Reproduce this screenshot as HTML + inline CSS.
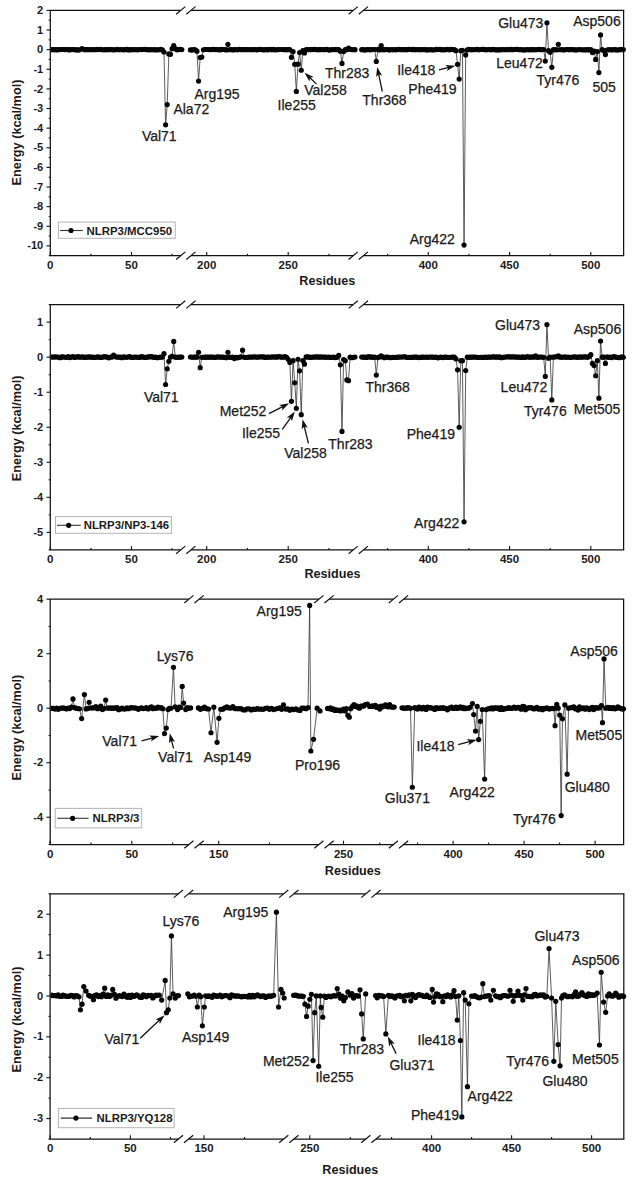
<!DOCTYPE html>
<html><head><meta charset="utf-8"><title>Energy decomposition</title>
<style>html,body{margin:0;padding:0;background:#fff;}svg{display:block;}text{font-family:"Liberation Sans", sans-serif;fill:#1a1a1a;}text.l{stroke:#1a1a1a;stroke-width:0.25px;}</style>
</head><body>
<svg width="632" height="1180" viewBox="0 0 632 1180">
<rect width="632" height="1180" fill="#fff"/>
<g fill="#050505">
<line x1="49.7" y1="10.4" x2="180.6" y2="10.4" stroke="#111" stroke-width="1.25"/>
<line x1="191" y1="10.4" x2="353.1" y2="10.4" stroke="#111" stroke-width="1.25"/>
<line x1="363.5" y1="10.4" x2="624.2" y2="10.4" stroke="#111" stroke-width="1.25"/>
<line x1="49.7" y1="255.7" x2="180.6" y2="255.7" stroke="#111" stroke-width="1.25"/>
<line x1="191" y1="255.7" x2="353.1" y2="255.7" stroke="#111" stroke-width="1.25"/>
<line x1="363.5" y1="255.7" x2="624.2" y2="255.7" stroke="#111" stroke-width="1.25"/>
<line x1="50.3" y1="10.4" x2="50.3" y2="255.7" stroke="#111" stroke-width="1.25"/>
<line x1="623.6" y1="10.4" x2="623.6" y2="255.7" stroke="#111" stroke-width="1.25"/>
<line x1="176.1" y1="14.2" x2="185.3" y2="6.6" stroke="#111" stroke-width="1.2"/>
<line x1="186.3" y1="14.2" x2="195.5" y2="6.6" stroke="#111" stroke-width="1.2"/>
<line x1="176.1" y1="259.5" x2="185.3" y2="251.9" stroke="#111" stroke-width="1.2"/>
<line x1="186.3" y1="259.5" x2="195.5" y2="251.9" stroke="#111" stroke-width="1.2"/>
<line x1="348.6" y1="14.2" x2="357.8" y2="6.6" stroke="#111" stroke-width="1.2"/>
<line x1="358.8" y1="14.2" x2="368" y2="6.6" stroke="#111" stroke-width="1.2"/>
<line x1="348.6" y1="259.5" x2="357.8" y2="251.9" stroke="#111" stroke-width="1.2"/>
<line x1="358.8" y1="259.5" x2="368" y2="251.9" stroke="#111" stroke-width="1.2"/>
<line x1="46.5" y1="10.4" x2="50.3" y2="10.4" stroke="#111" stroke-width="1.1"/>
<line x1="48.7" y1="20.21" x2="50.3" y2="20.21" stroke="#111" stroke-width="1.1"/>
<line x1="46.5" y1="30.02" x2="50.3" y2="30.02" stroke="#111" stroke-width="1.1"/>
<line x1="48.7" y1="39.84" x2="50.3" y2="39.84" stroke="#111" stroke-width="1.1"/>
<line x1="46.5" y1="49.65" x2="50.3" y2="49.65" stroke="#111" stroke-width="1.1"/>
<line x1="48.7" y1="59.46" x2="50.3" y2="59.46" stroke="#111" stroke-width="1.1"/>
<line x1="46.5" y1="69.27" x2="50.3" y2="69.27" stroke="#111" stroke-width="1.1"/>
<line x1="48.7" y1="79.08" x2="50.3" y2="79.08" stroke="#111" stroke-width="1.1"/>
<line x1="46.5" y1="88.9" x2="50.3" y2="88.9" stroke="#111" stroke-width="1.1"/>
<line x1="48.7" y1="98.71" x2="50.3" y2="98.71" stroke="#111" stroke-width="1.1"/>
<line x1="46.5" y1="108.52" x2="50.3" y2="108.52" stroke="#111" stroke-width="1.1"/>
<line x1="48.7" y1="118.33" x2="50.3" y2="118.33" stroke="#111" stroke-width="1.1"/>
<line x1="46.5" y1="128.14" x2="50.3" y2="128.14" stroke="#111" stroke-width="1.1"/>
<line x1="48.7" y1="137.96" x2="50.3" y2="137.96" stroke="#111" stroke-width="1.1"/>
<line x1="46.5" y1="147.77" x2="50.3" y2="147.77" stroke="#111" stroke-width="1.1"/>
<line x1="48.7" y1="157.58" x2="50.3" y2="157.58" stroke="#111" stroke-width="1.1"/>
<line x1="46.5" y1="167.39" x2="50.3" y2="167.39" stroke="#111" stroke-width="1.1"/>
<line x1="48.7" y1="177.2" x2="50.3" y2="177.2" stroke="#111" stroke-width="1.1"/>
<line x1="46.5" y1="187.02" x2="50.3" y2="187.02" stroke="#111" stroke-width="1.1"/>
<line x1="48.7" y1="196.83" x2="50.3" y2="196.83" stroke="#111" stroke-width="1.1"/>
<line x1="46.5" y1="206.64" x2="50.3" y2="206.64" stroke="#111" stroke-width="1.1"/>
<line x1="48.7" y1="216.45" x2="50.3" y2="216.45" stroke="#111" stroke-width="1.1"/>
<line x1="46.5" y1="226.26" x2="50.3" y2="226.26" stroke="#111" stroke-width="1.1"/>
<line x1="48.7" y1="236.08" x2="50.3" y2="236.08" stroke="#111" stroke-width="1.1"/>
<line x1="46.5" y1="245.89" x2="50.3" y2="245.89" stroke="#111" stroke-width="1.1"/>
<line x1="48.7" y1="255.7" x2="50.3" y2="255.7" stroke="#111" stroke-width="1.1"/>
<text x="43.2" y="14" text-anchor="end" font-weight="bold" font-size="11">2</text>
<text x="43.2" y="33.62" text-anchor="end" font-weight="bold" font-size="11">1</text>
<text x="43.2" y="53.25" text-anchor="end" font-weight="bold" font-size="11">0</text>
<text x="43.2" y="72.87" text-anchor="end" font-weight="bold" font-size="11">-1</text>
<text x="43.2" y="92.5" text-anchor="end" font-weight="bold" font-size="11">-2</text>
<text x="43.2" y="112.12" text-anchor="end" font-weight="bold" font-size="11">-3</text>
<text x="43.2" y="131.74" text-anchor="end" font-weight="bold" font-size="11">-4</text>
<text x="43.2" y="151.37" text-anchor="end" font-weight="bold" font-size="11">-5</text>
<text x="43.2" y="170.99" text-anchor="end" font-weight="bold" font-size="11">-6</text>
<text x="43.2" y="190.62" text-anchor="end" font-weight="bold" font-size="11">-7</text>
<text x="43.2" y="210.24" text-anchor="end" font-weight="bold" font-size="11">-8</text>
<text x="43.2" y="229.86" text-anchor="end" font-weight="bold" font-size="11">-9</text>
<text x="43.2" y="249.49" text-anchor="end" font-weight="bold" font-size="11">-10</text>
<line x1="50.3" y1="255.7" x2="50.3" y2="251.9" stroke="#111" stroke-width="1.1"/>
<text x="50.3" y="269" text-anchor="middle" font-weight="bold" font-size="11.5">0</text>
<line x1="90.9" y1="255.7" x2="90.9" y2="253.7" stroke="#111" stroke-width="1.1"/>
<line x1="131.5" y1="255.7" x2="131.5" y2="251.9" stroke="#111" stroke-width="1.1"/>
<text x="131.5" y="269" text-anchor="middle" font-weight="bold" font-size="11.5">50</text>
<line x1="172.1" y1="255.7" x2="172.1" y2="253.7" stroke="#111" stroke-width="1.1"/>
<line x1="206.7" y1="255.7" x2="206.7" y2="251.9" stroke="#111" stroke-width="1.1"/>
<text x="206.7" y="269" text-anchor="middle" font-weight="bold" font-size="11.5">200</text>
<line x1="247.45" y1="255.7" x2="247.45" y2="253.7" stroke="#111" stroke-width="1.1"/>
<line x1="288.2" y1="255.7" x2="288.2" y2="251.9" stroke="#111" stroke-width="1.1"/>
<text x="288.2" y="269" text-anchor="middle" font-weight="bold" font-size="11.5">250</text>
<line x1="328.95" y1="255.7" x2="328.95" y2="253.7" stroke="#111" stroke-width="1.1"/>
<line x1="387.68" y1="255.7" x2="387.68" y2="253.7" stroke="#111" stroke-width="1.1"/>
<line x1="428.3" y1="255.7" x2="428.3" y2="251.9" stroke="#111" stroke-width="1.1"/>
<text x="428.3" y="269" text-anchor="middle" font-weight="bold" font-size="11.5">400</text>
<line x1="468.93" y1="255.7" x2="468.93" y2="253.7" stroke="#111" stroke-width="1.1"/>
<line x1="509.55" y1="255.7" x2="509.55" y2="251.9" stroke="#111" stroke-width="1.1"/>
<text x="509.55" y="269" text-anchor="middle" font-weight="bold" font-size="11.5">450</text>
<line x1="550.17" y1="255.7" x2="550.17" y2="253.7" stroke="#111" stroke-width="1.1"/>
<line x1="590.8" y1="255.7" x2="590.8" y2="251.9" stroke="#111" stroke-width="1.1"/>
<text x="590.8" y="269" text-anchor="middle" font-weight="bold" font-size="11.5">500</text>
<text x="299.3" y="285.1" font-weight="bold" font-size="12.6">Residues</text>
<text transform="translate(21.2 132.5) rotate(-90)" text-anchor="middle" font-weight="bold" font-size="12.7">Energy (kcal/mol)</text>
<clipPath id="c10"><rect x="50.9" y="11" width="576.3" height="244.1"/></clipPath>
<g clip-path="url(#c10)">
<polyline points="50.3,49.69 51.92,49.57 53.55,49.68 55.17,49.7 56.8,49.79 58.42,49.68 60.04,49.48 61.67,49.58 63.29,49.49 64.92,49.61 66.54,49.59 68.16,49.62 69.79,49.9 71.41,49.52 73.04,49.57 74.66,49.57 76.28,49.9 77.91,49.91 79.53,49.78 81.97,48.67 84.4,49.72 86.03,49.6 87.65,49.65 89.28,49.57 90.9,49.74 92.52,49.6 94.15,49.59 95.77,49.75 97.4,49.39 99.02,49.56 100.64,49.47 102.27,49.74 103.89,49.76 105.52,49.7 107.14,49.66 108.76,49.55 110.39,49.61 112.01,49.72 113.64,49.79 115.26,49.73 116.88,49.46 118.51,49.77 120.13,49.61 121.76,49.58 123.38,49.87 125,49.64 126.63,49.45 128.25,49.95 129.88,49.7 131.5,49.66 133.12,49.77 134.75,49.57 136.37,49.66 138,49.87 139.62,49.52 141.24,49.55 142.87,49.51 144.49,49.43 146.12,49.59 147.74,49.63 149.36,49.84 150.99,49.56 152.61,49.74 154.24,49.72 155.86,49.84 157.48,49.79 159.11,49.73 160.73,49.45 162.36,49.95 163.98,52 165.6,124.81 167.23,104.6 168.85,53.97 170.48,54.36 172.1,48.67 173.72,45.72 175.35,48.67 176.97,49.87 178.6,49.61 180.22,49.43 181.84,49.56" fill="none" stroke="#333" stroke-width="0.8"/>
<circle cx="50.3" cy="49.69" r="2.6"/>
<circle cx="51.92" cy="49.57" r="2.6"/>
<circle cx="53.55" cy="49.68" r="2.6"/>
<circle cx="55.17" cy="49.7" r="2.6"/>
<circle cx="56.8" cy="49.79" r="2.6"/>
<circle cx="58.42" cy="49.68" r="2.6"/>
<circle cx="60.04" cy="49.48" r="2.6"/>
<circle cx="61.67" cy="49.58" r="2.6"/>
<circle cx="63.29" cy="49.49" r="2.6"/>
<circle cx="64.92" cy="49.61" r="2.6"/>
<circle cx="66.54" cy="49.59" r="2.6"/>
<circle cx="68.16" cy="49.62" r="2.6"/>
<circle cx="69.79" cy="49.9" r="2.6"/>
<circle cx="71.41" cy="49.52" r="2.6"/>
<circle cx="73.04" cy="49.57" r="2.6"/>
<circle cx="74.66" cy="49.57" r="2.6"/>
<circle cx="76.28" cy="49.9" r="2.6"/>
<circle cx="77.91" cy="49.91" r="2.6"/>
<circle cx="79.53" cy="49.78" r="2.6"/>
<circle cx="81.97" cy="48.67" r="2.6"/>
<circle cx="84.4" cy="49.72" r="2.6"/>
<circle cx="86.03" cy="49.6" r="2.6"/>
<circle cx="87.65" cy="49.65" r="2.6"/>
<circle cx="89.28" cy="49.57" r="2.6"/>
<circle cx="90.9" cy="49.74" r="2.6"/>
<circle cx="92.52" cy="49.6" r="2.6"/>
<circle cx="94.15" cy="49.59" r="2.6"/>
<circle cx="95.77" cy="49.75" r="2.6"/>
<circle cx="97.4" cy="49.39" r="2.6"/>
<circle cx="99.02" cy="49.56" r="2.6"/>
<circle cx="100.64" cy="49.47" r="2.6"/>
<circle cx="102.27" cy="49.74" r="2.6"/>
<circle cx="103.89" cy="49.76" r="2.6"/>
<circle cx="105.52" cy="49.7" r="2.6"/>
<circle cx="107.14" cy="49.66" r="2.6"/>
<circle cx="108.76" cy="49.55" r="2.6"/>
<circle cx="110.39" cy="49.61" r="2.6"/>
<circle cx="112.01" cy="49.72" r="2.6"/>
<circle cx="113.64" cy="49.79" r="2.6"/>
<circle cx="115.26" cy="49.73" r="2.6"/>
<circle cx="116.88" cy="49.46" r="2.6"/>
<circle cx="118.51" cy="49.77" r="2.6"/>
<circle cx="120.13" cy="49.61" r="2.6"/>
<circle cx="121.76" cy="49.58" r="2.6"/>
<circle cx="123.38" cy="49.87" r="2.6"/>
<circle cx="125" cy="49.64" r="2.6"/>
<circle cx="126.63" cy="49.45" r="2.6"/>
<circle cx="128.25" cy="49.95" r="2.6"/>
<circle cx="129.88" cy="49.7" r="2.6"/>
<circle cx="131.5" cy="49.66" r="2.6"/>
<circle cx="133.12" cy="49.77" r="2.6"/>
<circle cx="134.75" cy="49.57" r="2.6"/>
<circle cx="136.37" cy="49.66" r="2.6"/>
<circle cx="138" cy="49.87" r="2.6"/>
<circle cx="139.62" cy="49.52" r="2.6"/>
<circle cx="141.24" cy="49.55" r="2.6"/>
<circle cx="142.87" cy="49.51" r="2.6"/>
<circle cx="144.49" cy="49.43" r="2.6"/>
<circle cx="146.12" cy="49.59" r="2.6"/>
<circle cx="147.74" cy="49.63" r="2.6"/>
<circle cx="149.36" cy="49.84" r="2.6"/>
<circle cx="150.99" cy="49.56" r="2.6"/>
<circle cx="152.61" cy="49.74" r="2.6"/>
<circle cx="154.24" cy="49.72" r="2.6"/>
<circle cx="155.86" cy="49.84" r="2.6"/>
<circle cx="157.48" cy="49.79" r="2.6"/>
<circle cx="159.11" cy="49.73" r="2.6"/>
<circle cx="160.73" cy="49.45" r="2.6"/>
<circle cx="162.36" cy="49.95" r="2.6"/>
<circle cx="163.98" cy="52" r="2.6"/>
<circle cx="165.6" cy="124.81" r="2.6"/>
<circle cx="167.23" cy="104.6" r="2.6"/>
<circle cx="168.85" cy="53.97" r="2.6"/>
<circle cx="170.48" cy="54.36" r="2.6"/>
<circle cx="172.1" cy="48.67" r="2.6"/>
<circle cx="173.72" cy="45.72" r="2.6"/>
<circle cx="175.35" cy="48.67" r="2.6"/>
<circle cx="176.97" cy="49.87" r="2.6"/>
<circle cx="178.6" cy="49.61" r="2.6"/>
<circle cx="180.22" cy="49.43" r="2.6"/>
<circle cx="181.84" cy="49.56" r="2.6"/>
<polyline points="190.4,49.93 192.03,50.03 193.66,49.59 195.29,49.76 196.92,51.22 198.55,81.05 200.18,57.5 201.81,57.11 203.44,49.82 205.07,49.5 206.7,49.48 208.33,49.62 209.96,49.61 211.59,49.58 213.22,49.41 214.85,49.56 216.48,49.57 218.11,49.57 219.74,49.88 221.37,49.46 223,49.5 224.63,49.57 226.26,49.94 227.89,44.35 229.52,49.74 231.15,49.52 232.78,49.92 234.41,49.68 236.04,49.5 237.67,49.84 239.3,49.41 240.93,49.57 242.56,49.67 244.19,49.6 245.82,49.55 247.45,49.63 249.08,49.48 250.71,49.75 252.34,49.71 253.97,49.49 255.6,49.64 257.23,49.78 258.86,49.51 260.49,49.43 262.12,49.71 263.75,49.85 265.38,49.67 267.01,49.67 268.64,49.69 270.27,49.44 271.9,49.8 273.53,49.46 275.16,49.84 276.79,49.77 278.42,49.55 280.05,49.48 281.68,49.52 283.31,49.6 284.94,49.63 286.57,49.63 288.2,49.56 289.83,49.67 291.46,57.3 293.09,51.61 294.72,64.37 296.35,91.45 297.98,64.17 299.61,52.59 301.24,70.25 302.87,50.63 304.5,52.98 306.13,49.61 307.76,49.56 309.39,49.65 311.02,49.53 312.65,49.56 314.28,49.35 315.91,49.6 317.54,49.71 319.17,49.7 320.8,49.65 322.43,49.51 324.06,49.7 325.69,49.59 327.32,49.37 328.95,50.03 330.58,49.82 332.21,49.61 333.84,49.59 335.47,49.61 337.1,49.71 338.73,49.55 340.36,51.22 341.99,63.38 343.62,51.61 345.25,49.61 346.88,49.73 348.51,48.08 350.14,49.28 351.77,49.59 353.4,49.73 355.03,49.66" fill="none" stroke="#333" stroke-width="0.8"/>
<circle cx="190.4" cy="49.93" r="2.6"/>
<circle cx="192.03" cy="50.03" r="2.6"/>
<circle cx="193.66" cy="49.59" r="2.6"/>
<circle cx="195.29" cy="49.76" r="2.6"/>
<circle cx="196.92" cy="51.22" r="2.6"/>
<circle cx="198.55" cy="81.05" r="2.6"/>
<circle cx="200.18" cy="57.5" r="2.6"/>
<circle cx="201.81" cy="57.11" r="2.6"/>
<circle cx="203.44" cy="49.82" r="2.6"/>
<circle cx="205.07" cy="49.5" r="2.6"/>
<circle cx="206.7" cy="49.48" r="2.6"/>
<circle cx="208.33" cy="49.62" r="2.6"/>
<circle cx="209.96" cy="49.61" r="2.6"/>
<circle cx="211.59" cy="49.58" r="2.6"/>
<circle cx="213.22" cy="49.41" r="2.6"/>
<circle cx="214.85" cy="49.56" r="2.6"/>
<circle cx="216.48" cy="49.57" r="2.6"/>
<circle cx="218.11" cy="49.57" r="2.6"/>
<circle cx="219.74" cy="49.88" r="2.6"/>
<circle cx="221.37" cy="49.46" r="2.6"/>
<circle cx="223" cy="49.5" r="2.6"/>
<circle cx="224.63" cy="49.57" r="2.6"/>
<circle cx="226.26" cy="49.94" r="2.6"/>
<circle cx="227.89" cy="44.35" r="2.6"/>
<circle cx="229.52" cy="49.74" r="2.6"/>
<circle cx="231.15" cy="49.52" r="2.6"/>
<circle cx="232.78" cy="49.92" r="2.6"/>
<circle cx="234.41" cy="49.68" r="2.6"/>
<circle cx="236.04" cy="49.5" r="2.6"/>
<circle cx="237.67" cy="49.84" r="2.6"/>
<circle cx="239.3" cy="49.41" r="2.6"/>
<circle cx="240.93" cy="49.57" r="2.6"/>
<circle cx="242.56" cy="49.67" r="2.6"/>
<circle cx="244.19" cy="49.6" r="2.6"/>
<circle cx="245.82" cy="49.55" r="2.6"/>
<circle cx="247.45" cy="49.63" r="2.6"/>
<circle cx="249.08" cy="49.48" r="2.6"/>
<circle cx="250.71" cy="49.75" r="2.6"/>
<circle cx="252.34" cy="49.71" r="2.6"/>
<circle cx="253.97" cy="49.49" r="2.6"/>
<circle cx="255.6" cy="49.64" r="2.6"/>
<circle cx="257.23" cy="49.78" r="2.6"/>
<circle cx="258.86" cy="49.51" r="2.6"/>
<circle cx="260.49" cy="49.43" r="2.6"/>
<circle cx="262.12" cy="49.71" r="2.6"/>
<circle cx="263.75" cy="49.85" r="2.6"/>
<circle cx="265.38" cy="49.67" r="2.6"/>
<circle cx="267.01" cy="49.67" r="2.6"/>
<circle cx="268.64" cy="49.69" r="2.6"/>
<circle cx="270.27" cy="49.44" r="2.6"/>
<circle cx="271.9" cy="49.8" r="2.6"/>
<circle cx="273.53" cy="49.46" r="2.6"/>
<circle cx="275.16" cy="49.84" r="2.6"/>
<circle cx="276.79" cy="49.77" r="2.6"/>
<circle cx="278.42" cy="49.55" r="2.6"/>
<circle cx="280.05" cy="49.48" r="2.6"/>
<circle cx="281.68" cy="49.52" r="2.6"/>
<circle cx="283.31" cy="49.6" r="2.6"/>
<circle cx="284.94" cy="49.63" r="2.6"/>
<circle cx="286.57" cy="49.63" r="2.6"/>
<circle cx="288.2" cy="49.56" r="2.6"/>
<circle cx="289.83" cy="49.67" r="2.6"/>
<circle cx="291.46" cy="57.3" r="2.6"/>
<circle cx="293.09" cy="51.61" r="2.6"/>
<circle cx="294.72" cy="64.37" r="2.6"/>
<circle cx="296.35" cy="91.45" r="2.6"/>
<circle cx="297.98" cy="64.17" r="2.6"/>
<circle cx="299.61" cy="52.59" r="2.6"/>
<circle cx="301.24" cy="70.25" r="2.6"/>
<circle cx="302.87" cy="50.63" r="2.6"/>
<circle cx="304.5" cy="52.98" r="2.6"/>
<circle cx="306.13" cy="49.61" r="2.6"/>
<circle cx="307.76" cy="49.56" r="2.6"/>
<circle cx="309.39" cy="49.65" r="2.6"/>
<circle cx="311.02" cy="49.53" r="2.6"/>
<circle cx="312.65" cy="49.56" r="2.6"/>
<circle cx="314.28" cy="49.35" r="2.6"/>
<circle cx="315.91" cy="49.6" r="2.6"/>
<circle cx="317.54" cy="49.71" r="2.6"/>
<circle cx="319.17" cy="49.7" r="2.6"/>
<circle cx="320.8" cy="49.65" r="2.6"/>
<circle cx="322.43" cy="49.51" r="2.6"/>
<circle cx="324.06" cy="49.7" r="2.6"/>
<circle cx="325.69" cy="49.59" r="2.6"/>
<circle cx="327.32" cy="49.37" r="2.6"/>
<circle cx="328.95" cy="50.03" r="2.6"/>
<circle cx="330.58" cy="49.82" r="2.6"/>
<circle cx="332.21" cy="49.61" r="2.6"/>
<circle cx="333.84" cy="49.59" r="2.6"/>
<circle cx="335.47" cy="49.61" r="2.6"/>
<circle cx="337.1" cy="49.71" r="2.6"/>
<circle cx="338.73" cy="49.55" r="2.6"/>
<circle cx="340.36" cy="51.22" r="2.6"/>
<circle cx="341.99" cy="63.38" r="2.6"/>
<circle cx="343.62" cy="51.61" r="2.6"/>
<circle cx="345.25" cy="49.61" r="2.6"/>
<circle cx="346.88" cy="49.73" r="2.6"/>
<circle cx="348.51" cy="48.08" r="2.6"/>
<circle cx="350.14" cy="49.28" r="2.6"/>
<circle cx="351.77" cy="49.59" r="2.6"/>
<circle cx="353.4" cy="49.73" r="2.6"/>
<circle cx="355.03" cy="49.66" r="2.6"/>
<polyline points="361.68,49.68 363.3,49.66 364.93,50.06 366.55,49.72 368.18,49.5 369.8,49.82 371.43,49.66 373.05,49.5 374.68,49.52 376.3,61.42 377.93,49.42 379.55,49.9 381.18,45.72 382.8,49.7 384.43,49.7 386.05,49.55 387.68,49.48 389.3,50.05 390.93,49.48 392.55,49.87 394.18,49.55 395.8,49.87 397.43,49.62 399.05,49.47 400.68,49.67 402.3,49.62 403.93,49.53 405.55,49.63 407.18,49.66 408.8,49.42 410.43,49.49 412.05,49.69 413.68,49.24 415.3,49.82 416.93,49.51 418.55,49.69 420.18,49.63 421.8,49.54 423.43,49.61 425.05,49.55 426.68,49.88 428.3,49.87 429.93,49.56 431.55,49.79 433.18,49.8 434.8,49.87 436.43,49.46 438.05,49.54 439.68,49.43 441.3,49.79 442.93,49.65 444.55,49.82 446.18,49.53 447.8,49.41 449.43,49.78 451.05,49.41 452.68,49.5 454.3,49.67 455.93,50.63 457.55,64.37 459.18,79.08 460.8,50.63 462.43,50.24 464.05,245.1 465.68,54.95 467.3,49.94 468.93,49.44 470.55,49.66 472.18,49.74 473.8,49.59 475.43,49.59 477.05,49.42 478.68,49.8 480.3,49.48 481.93,49.42 483.55,49.43 485.18,49.68 486.8,49.76 488.43,49.5 490.05,49.63 491.68,49.63 493.3,49.43 494.93,49.69 496.55,49.99 498.18,49.71 499.8,49.93 501.43,49.53 503.05,49.6 504.68,49.74 506.3,49.65 507.93,49.52 509.55,49.64 511.18,49.45 512.8,49.66 514.42,49.49 516.05,49.42 517.67,49.41 519.3,49.75 520.92,49.52 522.55,49.93 524.17,49.81 525.8,49.94 527.42,49.49 529.05,49.83 530.67,49.65 532.3,49.68 533.92,49.65 535.55,49.74 537.17,49.61 538.8,49.38 540.42,49.64 542.05,49.57 543.67,49.5 545.3,61.03 546.92,22.76 548.55,50.63 550.17,52.2 551.8,67.31 553.42,49.65 555.05,49.68 556.67,49.84 558.3,44.35 559.92,49.73 561.55,49.49 563.17,49.89 564.8,49.74 566.42,49.5 568.05,49.53 569.67,49.65 571.3,49.53 572.92,49.62 574.55,49.82 576.17,49.88 577.8,49.74 579.42,49.51 581.05,49.73 582.67,49.78 584.3,49.76 585.92,49.88 587.55,49.67 589.17,49.82 590.8,49.59 592.42,52.59 594.05,51.22 595.67,59.46 597.3,51.61 598.92,72.61 600.55,34.93 602.17,49.65 603.8,50.63 605.42,54.55 607.05,50 608.67,49.6 610.3,49.74 611.92,49.94 613.55,49.54 615.17,49.69 616.8,49.98 618.42,49.78 620.05,49.6 621.67,49.72 623.3,49.53" fill="none" stroke="#333" stroke-width="0.8"/>
<circle cx="361.68" cy="49.68" r="2.6"/>
<circle cx="363.3" cy="49.66" r="2.6"/>
<circle cx="364.93" cy="50.06" r="2.6"/>
<circle cx="366.55" cy="49.72" r="2.6"/>
<circle cx="368.18" cy="49.5" r="2.6"/>
<circle cx="369.8" cy="49.82" r="2.6"/>
<circle cx="371.43" cy="49.66" r="2.6"/>
<circle cx="373.05" cy="49.5" r="2.6"/>
<circle cx="374.68" cy="49.52" r="2.6"/>
<circle cx="376.3" cy="61.42" r="2.6"/>
<circle cx="377.93" cy="49.42" r="2.6"/>
<circle cx="379.55" cy="49.9" r="2.6"/>
<circle cx="381.18" cy="45.72" r="2.6"/>
<circle cx="382.8" cy="49.7" r="2.6"/>
<circle cx="384.43" cy="49.7" r="2.6"/>
<circle cx="386.05" cy="49.55" r="2.6"/>
<circle cx="387.68" cy="49.48" r="2.6"/>
<circle cx="389.3" cy="50.05" r="2.6"/>
<circle cx="390.93" cy="49.48" r="2.6"/>
<circle cx="392.55" cy="49.87" r="2.6"/>
<circle cx="394.18" cy="49.55" r="2.6"/>
<circle cx="395.8" cy="49.87" r="2.6"/>
<circle cx="397.43" cy="49.62" r="2.6"/>
<circle cx="399.05" cy="49.47" r="2.6"/>
<circle cx="400.68" cy="49.67" r="2.6"/>
<circle cx="402.3" cy="49.62" r="2.6"/>
<circle cx="403.93" cy="49.53" r="2.6"/>
<circle cx="405.55" cy="49.63" r="2.6"/>
<circle cx="407.18" cy="49.66" r="2.6"/>
<circle cx="408.8" cy="49.42" r="2.6"/>
<circle cx="410.43" cy="49.49" r="2.6"/>
<circle cx="412.05" cy="49.69" r="2.6"/>
<circle cx="413.68" cy="49.24" r="2.6"/>
<circle cx="415.3" cy="49.82" r="2.6"/>
<circle cx="416.93" cy="49.51" r="2.6"/>
<circle cx="418.55" cy="49.69" r="2.6"/>
<circle cx="420.18" cy="49.63" r="2.6"/>
<circle cx="421.8" cy="49.54" r="2.6"/>
<circle cx="423.43" cy="49.61" r="2.6"/>
<circle cx="425.05" cy="49.55" r="2.6"/>
<circle cx="426.68" cy="49.88" r="2.6"/>
<circle cx="428.3" cy="49.87" r="2.6"/>
<circle cx="429.93" cy="49.56" r="2.6"/>
<circle cx="431.55" cy="49.79" r="2.6"/>
<circle cx="433.18" cy="49.8" r="2.6"/>
<circle cx="434.8" cy="49.87" r="2.6"/>
<circle cx="436.43" cy="49.46" r="2.6"/>
<circle cx="438.05" cy="49.54" r="2.6"/>
<circle cx="439.68" cy="49.43" r="2.6"/>
<circle cx="441.3" cy="49.79" r="2.6"/>
<circle cx="442.93" cy="49.65" r="2.6"/>
<circle cx="444.55" cy="49.82" r="2.6"/>
<circle cx="446.18" cy="49.53" r="2.6"/>
<circle cx="447.8" cy="49.41" r="2.6"/>
<circle cx="449.43" cy="49.78" r="2.6"/>
<circle cx="451.05" cy="49.41" r="2.6"/>
<circle cx="452.68" cy="49.5" r="2.6"/>
<circle cx="454.3" cy="49.67" r="2.6"/>
<circle cx="455.93" cy="50.63" r="2.6"/>
<circle cx="457.55" cy="64.37" r="2.6"/>
<circle cx="459.18" cy="79.08" r="2.6"/>
<circle cx="460.8" cy="50.63" r="2.6"/>
<circle cx="462.43" cy="50.24" r="2.6"/>
<circle cx="464.05" cy="245.1" r="2.6"/>
<circle cx="465.68" cy="54.95" r="2.6"/>
<circle cx="467.3" cy="49.94" r="2.6"/>
<circle cx="468.93" cy="49.44" r="2.6"/>
<circle cx="470.55" cy="49.66" r="2.6"/>
<circle cx="472.18" cy="49.74" r="2.6"/>
<circle cx="473.8" cy="49.59" r="2.6"/>
<circle cx="475.43" cy="49.59" r="2.6"/>
<circle cx="477.05" cy="49.42" r="2.6"/>
<circle cx="478.68" cy="49.8" r="2.6"/>
<circle cx="480.3" cy="49.48" r="2.6"/>
<circle cx="481.93" cy="49.42" r="2.6"/>
<circle cx="483.55" cy="49.43" r="2.6"/>
<circle cx="485.18" cy="49.68" r="2.6"/>
<circle cx="486.8" cy="49.76" r="2.6"/>
<circle cx="488.43" cy="49.5" r="2.6"/>
<circle cx="490.05" cy="49.63" r="2.6"/>
<circle cx="491.68" cy="49.63" r="2.6"/>
<circle cx="493.3" cy="49.43" r="2.6"/>
<circle cx="494.93" cy="49.69" r="2.6"/>
<circle cx="496.55" cy="49.99" r="2.6"/>
<circle cx="498.18" cy="49.71" r="2.6"/>
<circle cx="499.8" cy="49.93" r="2.6"/>
<circle cx="501.43" cy="49.53" r="2.6"/>
<circle cx="503.05" cy="49.6" r="2.6"/>
<circle cx="504.68" cy="49.74" r="2.6"/>
<circle cx="506.3" cy="49.65" r="2.6"/>
<circle cx="507.93" cy="49.52" r="2.6"/>
<circle cx="509.55" cy="49.64" r="2.6"/>
<circle cx="511.18" cy="49.45" r="2.6"/>
<circle cx="512.8" cy="49.66" r="2.6"/>
<circle cx="514.42" cy="49.49" r="2.6"/>
<circle cx="516.05" cy="49.42" r="2.6"/>
<circle cx="517.67" cy="49.41" r="2.6"/>
<circle cx="519.3" cy="49.75" r="2.6"/>
<circle cx="520.92" cy="49.52" r="2.6"/>
<circle cx="522.55" cy="49.93" r="2.6"/>
<circle cx="524.17" cy="49.81" r="2.6"/>
<circle cx="525.8" cy="49.94" r="2.6"/>
<circle cx="527.42" cy="49.49" r="2.6"/>
<circle cx="529.05" cy="49.83" r="2.6"/>
<circle cx="530.67" cy="49.65" r="2.6"/>
<circle cx="532.3" cy="49.68" r="2.6"/>
<circle cx="533.92" cy="49.65" r="2.6"/>
<circle cx="535.55" cy="49.74" r="2.6"/>
<circle cx="537.17" cy="49.61" r="2.6"/>
<circle cx="538.8" cy="49.38" r="2.6"/>
<circle cx="540.42" cy="49.64" r="2.6"/>
<circle cx="542.05" cy="49.57" r="2.6"/>
<circle cx="543.67" cy="49.5" r="2.6"/>
<circle cx="545.3" cy="61.03" r="2.6"/>
<circle cx="546.92" cy="22.76" r="2.6"/>
<circle cx="548.55" cy="50.63" r="2.6"/>
<circle cx="550.17" cy="52.2" r="2.6"/>
<circle cx="551.8" cy="67.31" r="2.6"/>
<circle cx="553.42" cy="49.65" r="2.6"/>
<circle cx="555.05" cy="49.68" r="2.6"/>
<circle cx="556.67" cy="49.84" r="2.6"/>
<circle cx="558.3" cy="44.35" r="2.6"/>
<circle cx="559.92" cy="49.73" r="2.6"/>
<circle cx="561.55" cy="49.49" r="2.6"/>
<circle cx="563.17" cy="49.89" r="2.6"/>
<circle cx="564.8" cy="49.74" r="2.6"/>
<circle cx="566.42" cy="49.5" r="2.6"/>
<circle cx="568.05" cy="49.53" r="2.6"/>
<circle cx="569.67" cy="49.65" r="2.6"/>
<circle cx="571.3" cy="49.53" r="2.6"/>
<circle cx="572.92" cy="49.62" r="2.6"/>
<circle cx="574.55" cy="49.82" r="2.6"/>
<circle cx="576.17" cy="49.88" r="2.6"/>
<circle cx="577.8" cy="49.74" r="2.6"/>
<circle cx="579.42" cy="49.51" r="2.6"/>
<circle cx="581.05" cy="49.73" r="2.6"/>
<circle cx="582.67" cy="49.78" r="2.6"/>
<circle cx="584.3" cy="49.76" r="2.6"/>
<circle cx="585.92" cy="49.88" r="2.6"/>
<circle cx="587.55" cy="49.67" r="2.6"/>
<circle cx="589.17" cy="49.82" r="2.6"/>
<circle cx="590.8" cy="49.59" r="2.6"/>
<circle cx="592.42" cy="52.59" r="2.6"/>
<circle cx="594.05" cy="51.22" r="2.6"/>
<circle cx="595.67" cy="59.46" r="2.6"/>
<circle cx="597.3" cy="51.61" r="2.6"/>
<circle cx="598.92" cy="72.61" r="2.6"/>
<circle cx="600.55" cy="34.93" r="2.6"/>
<circle cx="602.17" cy="49.65" r="2.6"/>
<circle cx="603.8" cy="50.63" r="2.6"/>
<circle cx="605.42" cy="54.55" r="2.6"/>
<circle cx="607.05" cy="50" r="2.6"/>
<circle cx="608.67" cy="49.6" r="2.6"/>
<circle cx="610.3" cy="49.74" r="2.6"/>
<circle cx="611.92" cy="49.94" r="2.6"/>
<circle cx="613.55" cy="49.54" r="2.6"/>
<circle cx="615.17" cy="49.69" r="2.6"/>
<circle cx="616.8" cy="49.98" r="2.6"/>
<circle cx="618.42" cy="49.78" r="2.6"/>
<circle cx="620.05" cy="49.6" r="2.6"/>
<circle cx="621.67" cy="49.72" r="2.6"/>
<circle cx="623.3" cy="49.53" r="2.6"/>
</g>
<text class="l" x="141.9" y="140.9" font-size="14.0">Val71</text>
<text class="l" x="173.4" y="113.9" font-size="14.0">Ala72</text>
<text class="l" x="194.4" y="99.2" font-size="14.0">Arg195</text>
<text class="l" x="277.6" y="109.7" font-size="14.0">Ile255</text>
<text class="l" x="304.2" y="94.8" font-size="14.0">Val258</text>
<text class="l" x="324.9" y="78.2" font-size="14.0">Thr283</text>
<text class="l" x="362.3" y="105.1" font-size="14.0">Thr368</text>
<text class="l" x="397.2" y="75.3" font-size="14.0">Ile418</text>
<text class="l" x="408.3" y="93.7" font-size="14.0">Phe419</text>
<text class="l" x="409.7" y="244.2" font-size="14.0">Arg422</text>
<text class="l" x="498.2" y="27.8" font-size="14.0">Glu473</text>
<text class="l" x="573.2" y="26.1" font-size="14.0">Asp506</text>
<text class="l" x="496.2" y="68.2" font-size="14.0">Leu472</text>
<text class="l" x="536.6" y="84.6" font-size="14.0">Tyr476</text>
<text class="l" x="592.4" y="91.8" font-size="14.0">505</text>
<line x1="316.6" y1="84.1" x2="309.42" y2="77.28" stroke="#111" stroke-width="1.3"/>
<path d="M304.6,72.7 L313.62,77 L309.97,77.8 L309.35,81.49 Z" fill="#111"/>
<line x1="382.3" y1="91.7" x2="378.54" y2="73.51" stroke="#111" stroke-width="1.3"/>
<path d="M377.2,67 L382.16,75.68 L378.7,74.26 L376.09,76.93 Z" fill="#111"/>
<line x1="438.9" y1="69.9" x2="448.96" y2="67.34" stroke="#111" stroke-width="1.3"/>
<path d="M455.4,65.7 L446.96,71.05 L448.22,67.53 L445.43,65.04 Z" fill="#111"/>
<rect x="58.4" y="222.1" width="116.8" height="16.2" fill="#fff" stroke="#b4b4b4" stroke-width="1"/>
<line x1="60" y1="230.5" x2="82.8" y2="230.5" stroke="#333" stroke-width="1.1"/>
<circle cx="71" cy="230.5" r="2.6"/>
<text x="86.6" y="234.6" font-weight="bold" font-size="11.4">NLRP3/MCC950</text>
</g>
<g fill="#050505">
<line x1="49.7" y1="304.6" x2="180.6" y2="304.6" stroke="#111" stroke-width="1.25"/>
<line x1="191" y1="304.6" x2="353.1" y2="304.6" stroke="#111" stroke-width="1.25"/>
<line x1="363.5" y1="304.6" x2="624.2" y2="304.6" stroke="#111" stroke-width="1.25"/>
<line x1="49.7" y1="549.9" x2="180.6" y2="549.9" stroke="#111" stroke-width="1.25"/>
<line x1="191" y1="549.9" x2="353.1" y2="549.9" stroke="#111" stroke-width="1.25"/>
<line x1="363.5" y1="549.9" x2="624.2" y2="549.9" stroke="#111" stroke-width="1.25"/>
<line x1="50.3" y1="304.6" x2="50.3" y2="549.9" stroke="#111" stroke-width="1.25"/>
<line x1="623.6" y1="304.6" x2="623.6" y2="549.9" stroke="#111" stroke-width="1.25"/>
<line x1="176.1" y1="308.4" x2="185.3" y2="300.8" stroke="#111" stroke-width="1.2"/>
<line x1="186.3" y1="308.4" x2="195.5" y2="300.8" stroke="#111" stroke-width="1.2"/>
<line x1="176.1" y1="553.7" x2="185.3" y2="546.1" stroke="#111" stroke-width="1.2"/>
<line x1="186.3" y1="553.7" x2="195.5" y2="546.1" stroke="#111" stroke-width="1.2"/>
<line x1="348.6" y1="308.4" x2="357.8" y2="300.8" stroke="#111" stroke-width="1.2"/>
<line x1="358.8" y1="308.4" x2="368" y2="300.8" stroke="#111" stroke-width="1.2"/>
<line x1="348.6" y1="553.7" x2="357.8" y2="546.1" stroke="#111" stroke-width="1.2"/>
<line x1="358.8" y1="553.7" x2="368" y2="546.1" stroke="#111" stroke-width="1.2"/>
<line x1="48.7" y1="304.6" x2="50.3" y2="304.6" stroke="#111" stroke-width="1.1"/>
<line x1="46.5" y1="322.12" x2="50.3" y2="322.12" stroke="#111" stroke-width="1.1"/>
<line x1="48.7" y1="339.64" x2="50.3" y2="339.64" stroke="#111" stroke-width="1.1"/>
<line x1="46.5" y1="357.16" x2="50.3" y2="357.16" stroke="#111" stroke-width="1.1"/>
<line x1="48.7" y1="374.69" x2="50.3" y2="374.69" stroke="#111" stroke-width="1.1"/>
<line x1="46.5" y1="392.21" x2="50.3" y2="392.21" stroke="#111" stroke-width="1.1"/>
<line x1="48.7" y1="409.73" x2="50.3" y2="409.73" stroke="#111" stroke-width="1.1"/>
<line x1="46.5" y1="427.25" x2="50.3" y2="427.25" stroke="#111" stroke-width="1.1"/>
<line x1="48.7" y1="444.77" x2="50.3" y2="444.77" stroke="#111" stroke-width="1.1"/>
<line x1="46.5" y1="462.29" x2="50.3" y2="462.29" stroke="#111" stroke-width="1.1"/>
<line x1="48.7" y1="479.81" x2="50.3" y2="479.81" stroke="#111" stroke-width="1.1"/>
<line x1="46.5" y1="497.34" x2="50.3" y2="497.34" stroke="#111" stroke-width="1.1"/>
<line x1="48.7" y1="514.86" x2="50.3" y2="514.86" stroke="#111" stroke-width="1.1"/>
<line x1="46.5" y1="532.38" x2="50.3" y2="532.38" stroke="#111" stroke-width="1.1"/>
<line x1="48.7" y1="549.9" x2="50.3" y2="549.9" stroke="#111" stroke-width="1.1"/>
<text x="43.2" y="325.72" text-anchor="end" font-weight="bold" font-size="11">1</text>
<text x="43.2" y="360.76" text-anchor="end" font-weight="bold" font-size="11">0</text>
<text x="43.2" y="395.81" text-anchor="end" font-weight="bold" font-size="11">-1</text>
<text x="43.2" y="430.85" text-anchor="end" font-weight="bold" font-size="11">-2</text>
<text x="43.2" y="465.89" text-anchor="end" font-weight="bold" font-size="11">-3</text>
<text x="43.2" y="500.94" text-anchor="end" font-weight="bold" font-size="11">-4</text>
<text x="43.2" y="535.98" text-anchor="end" font-weight="bold" font-size="11">-5</text>
<line x1="50.3" y1="549.9" x2="50.3" y2="546.1" stroke="#111" stroke-width="1.1"/>
<text x="50.3" y="563.2" text-anchor="middle" font-weight="bold" font-size="11.5">0</text>
<line x1="90.9" y1="549.9" x2="90.9" y2="547.9" stroke="#111" stroke-width="1.1"/>
<line x1="131.5" y1="549.9" x2="131.5" y2="546.1" stroke="#111" stroke-width="1.1"/>
<text x="131.5" y="563.2" text-anchor="middle" font-weight="bold" font-size="11.5">50</text>
<line x1="172.1" y1="549.9" x2="172.1" y2="547.9" stroke="#111" stroke-width="1.1"/>
<line x1="206.7" y1="549.9" x2="206.7" y2="546.1" stroke="#111" stroke-width="1.1"/>
<text x="206.7" y="563.2" text-anchor="middle" font-weight="bold" font-size="11.5">200</text>
<line x1="247.45" y1="549.9" x2="247.45" y2="547.9" stroke="#111" stroke-width="1.1"/>
<line x1="288.2" y1="549.9" x2="288.2" y2="546.1" stroke="#111" stroke-width="1.1"/>
<text x="288.2" y="563.2" text-anchor="middle" font-weight="bold" font-size="11.5">250</text>
<line x1="328.95" y1="549.9" x2="328.95" y2="547.9" stroke="#111" stroke-width="1.1"/>
<line x1="387.68" y1="549.9" x2="387.68" y2="547.9" stroke="#111" stroke-width="1.1"/>
<line x1="428.3" y1="549.9" x2="428.3" y2="546.1" stroke="#111" stroke-width="1.1"/>
<text x="428.3" y="563.2" text-anchor="middle" font-weight="bold" font-size="11.5">400</text>
<line x1="468.93" y1="549.9" x2="468.93" y2="547.9" stroke="#111" stroke-width="1.1"/>
<line x1="509.55" y1="549.9" x2="509.55" y2="546.1" stroke="#111" stroke-width="1.1"/>
<text x="509.55" y="563.2" text-anchor="middle" font-weight="bold" font-size="11.5">450</text>
<line x1="550.17" y1="549.9" x2="550.17" y2="547.9" stroke="#111" stroke-width="1.1"/>
<line x1="590.8" y1="549.9" x2="590.8" y2="546.1" stroke="#111" stroke-width="1.1"/>
<text x="590.8" y="563.2" text-anchor="middle" font-weight="bold" font-size="11.5">500</text>
<text x="304.5" y="578.2" font-weight="bold" font-size="12.6">Residues</text>
<text transform="translate(21.2 428.4) rotate(-90)" text-anchor="middle" font-weight="bold" font-size="12.7">Energy (kcal/mol)</text>
<clipPath id="c304"><rect x="50.9" y="305.2" width="576.3" height="244.1"/></clipPath>
<g clip-path="url(#c304)">
<polyline points="50.3,356.98 51.92,357 53.55,357.08 55.17,356.83 56.8,357 58.42,357.05 60.04,357.69 61.67,356.94 63.29,356.84 64.92,357.24 66.54,357.28 68.16,356.68 69.79,357.6 71.41,357.05 73.04,356.56 74.66,357.4 76.28,356.99 77.91,356.69 79.53,357.19 81.16,357.02 82.78,356.94 84.4,357.39 86.03,357.19 87.65,357.09 89.28,356.96 90.9,357.17 92.52,357.21 94.15,357.42 95.77,357.25 97.4,356.94 99.02,357.14 100.64,357.38 102.27,357.37 103.89,356.5 105.52,356.88 107.14,357 108.76,357.81 110.39,357.01 112.01,357.04 113.64,355.06 115.26,356.74 116.88,357.06 118.51,357.18 120.13,357.03 121.76,357.65 123.38,356.91 125,357.08 126.63,357.34 128.25,356.83 129.88,356.71 131.5,357.51 133.12,357.33 134.75,357.09 136.37,357.12 138,357.26 139.62,357.41 141.24,356.63 142.87,356.9 144.49,357.46 146.12,357.5 147.74,356.74 149.36,356.92 150.99,356.71 152.61,356.96 154.24,357.38 155.86,357.1 157.48,357.7 159.11,357.35 160.73,357.18 162.36,357.03 163.98,353.66 165.6,384.5 167.23,368.73 168.85,361.37 170.48,357.16 172.1,356.46 173.72,341.4 175.35,357.16 176.97,357.35 178.6,357.2 180.22,357.05 181.84,357.07" fill="none" stroke="#333" stroke-width="0.8"/>
<circle cx="50.3" cy="356.98" r="2.6"/>
<circle cx="51.92" cy="357" r="2.6"/>
<circle cx="53.55" cy="357.08" r="2.6"/>
<circle cx="55.17" cy="356.83" r="2.6"/>
<circle cx="56.8" cy="357" r="2.6"/>
<circle cx="58.42" cy="357.05" r="2.6"/>
<circle cx="60.04" cy="357.69" r="2.6"/>
<circle cx="61.67" cy="356.94" r="2.6"/>
<circle cx="63.29" cy="356.84" r="2.6"/>
<circle cx="64.92" cy="357.24" r="2.6"/>
<circle cx="66.54" cy="357.28" r="2.6"/>
<circle cx="68.16" cy="356.68" r="2.6"/>
<circle cx="69.79" cy="357.6" r="2.6"/>
<circle cx="71.41" cy="357.05" r="2.6"/>
<circle cx="73.04" cy="356.56" r="2.6"/>
<circle cx="74.66" cy="357.4" r="2.6"/>
<circle cx="76.28" cy="356.99" r="2.6"/>
<circle cx="77.91" cy="356.69" r="2.6"/>
<circle cx="79.53" cy="357.19" r="2.6"/>
<circle cx="81.16" cy="357.02" r="2.6"/>
<circle cx="82.78" cy="356.94" r="2.6"/>
<circle cx="84.4" cy="357.39" r="2.6"/>
<circle cx="86.03" cy="357.19" r="2.6"/>
<circle cx="87.65" cy="357.09" r="2.6"/>
<circle cx="89.28" cy="356.96" r="2.6"/>
<circle cx="90.9" cy="357.17" r="2.6"/>
<circle cx="92.52" cy="357.21" r="2.6"/>
<circle cx="94.15" cy="357.42" r="2.6"/>
<circle cx="95.77" cy="357.25" r="2.6"/>
<circle cx="97.4" cy="356.94" r="2.6"/>
<circle cx="99.02" cy="357.14" r="2.6"/>
<circle cx="100.64" cy="357.38" r="2.6"/>
<circle cx="102.27" cy="357.37" r="2.6"/>
<circle cx="103.89" cy="356.5" r="2.6"/>
<circle cx="105.52" cy="356.88" r="2.6"/>
<circle cx="107.14" cy="357" r="2.6"/>
<circle cx="108.76" cy="357.81" r="2.6"/>
<circle cx="110.39" cy="357.01" r="2.6"/>
<circle cx="112.01" cy="357.04" r="2.6"/>
<circle cx="113.64" cy="355.06" r="2.6"/>
<circle cx="115.26" cy="356.74" r="2.6"/>
<circle cx="116.88" cy="357.06" r="2.6"/>
<circle cx="118.51" cy="357.18" r="2.6"/>
<circle cx="120.13" cy="357.03" r="2.6"/>
<circle cx="121.76" cy="357.65" r="2.6"/>
<circle cx="123.38" cy="356.91" r="2.6"/>
<circle cx="125" cy="357.08" r="2.6"/>
<circle cx="126.63" cy="357.34" r="2.6"/>
<circle cx="128.25" cy="356.83" r="2.6"/>
<circle cx="129.88" cy="356.71" r="2.6"/>
<circle cx="131.5" cy="357.51" r="2.6"/>
<circle cx="133.12" cy="357.33" r="2.6"/>
<circle cx="134.75" cy="357.09" r="2.6"/>
<circle cx="136.37" cy="357.12" r="2.6"/>
<circle cx="138" cy="357.26" r="2.6"/>
<circle cx="139.62" cy="357.41" r="2.6"/>
<circle cx="141.24" cy="356.63" r="2.6"/>
<circle cx="142.87" cy="356.9" r="2.6"/>
<circle cx="144.49" cy="357.46" r="2.6"/>
<circle cx="146.12" cy="357.5" r="2.6"/>
<circle cx="147.74" cy="356.74" r="2.6"/>
<circle cx="149.36" cy="356.92" r="2.6"/>
<circle cx="150.99" cy="356.71" r="2.6"/>
<circle cx="152.61" cy="356.96" r="2.6"/>
<circle cx="154.24" cy="357.38" r="2.6"/>
<circle cx="155.86" cy="357.1" r="2.6"/>
<circle cx="157.48" cy="357.7" r="2.6"/>
<circle cx="159.11" cy="357.35" r="2.6"/>
<circle cx="160.73" cy="357.18" r="2.6"/>
<circle cx="162.36" cy="357.03" r="2.6"/>
<circle cx="163.98" cy="353.66" r="2.6"/>
<circle cx="165.6" cy="384.5" r="2.6"/>
<circle cx="167.23" cy="368.73" r="2.6"/>
<circle cx="168.85" cy="361.37" r="2.6"/>
<circle cx="170.48" cy="357.16" r="2.6"/>
<circle cx="172.1" cy="356.46" r="2.6"/>
<circle cx="173.72" cy="341.4" r="2.6"/>
<circle cx="175.35" cy="357.16" r="2.6"/>
<circle cx="176.97" cy="357.35" r="2.6"/>
<circle cx="178.6" cy="357.2" r="2.6"/>
<circle cx="180.22" cy="357.05" r="2.6"/>
<circle cx="181.84" cy="357.07" r="2.6"/>
<polyline points="190.4,357 192.03,357.11 193.66,357.25 195.29,356.97 196.92,357.15 198.55,352.26 200.18,367.68 201.81,357.37 203.44,357.32 205.07,357.16 206.7,357.19 208.33,357.13 209.96,357.16 211.59,357.12 213.22,357.2 214.85,357.48 216.48,357.06 218.11,356.9 219.74,357.06 221.37,357.21 223,357.05 224.63,357.41 226.26,357.64 227.89,352.26 229.52,357.15 231.15,357.4 232.78,356.98 234.41,358.57 236.04,357.44 237.67,357.82 239.3,357.42 240.93,356.77 242.56,350.16 244.19,357.26 245.82,357.51 247.45,357.36 249.08,357.03 250.71,357.04 252.34,357.12 253.97,356.79 255.6,356.99 257.23,357.17 258.86,357.02 260.49,356.75 262.12,356.92 263.75,356.91 265.38,357.43 267.01,357.2 268.64,356.98 270.27,357.24 271.9,356.9 273.53,357.02 275.16,356.94 276.79,357.22 278.42,356.53 280.05,356.85 281.68,357.22 283.31,357.14 284.94,356.52 286.57,357.25 288.2,359.27 289.83,362.42 291.46,401.32 293.09,360.67 294.72,382.75 296.35,408.33 297.98,359.27 299.61,370.83 301.24,414.63 302.87,360.67 304.5,364.17 306.13,356.95 307.76,356.92 309.39,357.16 311.02,357.46 312.65,357.12 314.28,357.07 315.91,356.88 317.54,356.97 319.17,357.16 320.8,356.95 322.43,357.03 324.06,357.11 325.69,357.15 327.32,357.23 328.95,356.99 330.58,357.43 332.21,357.32 333.84,357.16 335.47,357.53 337.1,357.27 338.73,355.41 340.36,364.87 341.99,431.46 343.62,359.62 345.25,360.67 346.88,379.94 348.51,380.64 350.14,357.16 351.77,357.67 353.4,357.34 355.03,357.02" fill="none" stroke="#333" stroke-width="0.8"/>
<circle cx="190.4" cy="357" r="2.6"/>
<circle cx="192.03" cy="357.11" r="2.6"/>
<circle cx="193.66" cy="357.25" r="2.6"/>
<circle cx="195.29" cy="356.97" r="2.6"/>
<circle cx="196.92" cy="357.15" r="2.6"/>
<circle cx="198.55" cy="352.26" r="2.6"/>
<circle cx="200.18" cy="367.68" r="2.6"/>
<circle cx="201.81" cy="357.37" r="2.6"/>
<circle cx="203.44" cy="357.32" r="2.6"/>
<circle cx="205.07" cy="357.16" r="2.6"/>
<circle cx="206.7" cy="357.19" r="2.6"/>
<circle cx="208.33" cy="357.13" r="2.6"/>
<circle cx="209.96" cy="357.16" r="2.6"/>
<circle cx="211.59" cy="357.12" r="2.6"/>
<circle cx="213.22" cy="357.2" r="2.6"/>
<circle cx="214.85" cy="357.48" r="2.6"/>
<circle cx="216.48" cy="357.06" r="2.6"/>
<circle cx="218.11" cy="356.9" r="2.6"/>
<circle cx="219.74" cy="357.06" r="2.6"/>
<circle cx="221.37" cy="357.21" r="2.6"/>
<circle cx="223" cy="357.05" r="2.6"/>
<circle cx="224.63" cy="357.41" r="2.6"/>
<circle cx="226.26" cy="357.64" r="2.6"/>
<circle cx="227.89" cy="352.26" r="2.6"/>
<circle cx="229.52" cy="357.15" r="2.6"/>
<circle cx="231.15" cy="357.4" r="2.6"/>
<circle cx="232.78" cy="356.98" r="2.6"/>
<circle cx="234.41" cy="358.57" r="2.6"/>
<circle cx="236.04" cy="357.44" r="2.6"/>
<circle cx="237.67" cy="357.82" r="2.6"/>
<circle cx="239.3" cy="357.42" r="2.6"/>
<circle cx="240.93" cy="356.77" r="2.6"/>
<circle cx="242.56" cy="350.16" r="2.6"/>
<circle cx="244.19" cy="357.26" r="2.6"/>
<circle cx="245.82" cy="357.51" r="2.6"/>
<circle cx="247.45" cy="357.36" r="2.6"/>
<circle cx="249.08" cy="357.03" r="2.6"/>
<circle cx="250.71" cy="357.04" r="2.6"/>
<circle cx="252.34" cy="357.12" r="2.6"/>
<circle cx="253.97" cy="356.79" r="2.6"/>
<circle cx="255.6" cy="356.99" r="2.6"/>
<circle cx="257.23" cy="357.17" r="2.6"/>
<circle cx="258.86" cy="357.02" r="2.6"/>
<circle cx="260.49" cy="356.75" r="2.6"/>
<circle cx="262.12" cy="356.92" r="2.6"/>
<circle cx="263.75" cy="356.91" r="2.6"/>
<circle cx="265.38" cy="357.43" r="2.6"/>
<circle cx="267.01" cy="357.2" r="2.6"/>
<circle cx="268.64" cy="356.98" r="2.6"/>
<circle cx="270.27" cy="357.24" r="2.6"/>
<circle cx="271.9" cy="356.9" r="2.6"/>
<circle cx="273.53" cy="357.02" r="2.6"/>
<circle cx="275.16" cy="356.94" r="2.6"/>
<circle cx="276.79" cy="357.22" r="2.6"/>
<circle cx="278.42" cy="356.53" r="2.6"/>
<circle cx="280.05" cy="356.85" r="2.6"/>
<circle cx="281.68" cy="357.22" r="2.6"/>
<circle cx="283.31" cy="357.14" r="2.6"/>
<circle cx="284.94" cy="356.52" r="2.6"/>
<circle cx="286.57" cy="357.25" r="2.6"/>
<circle cx="288.2" cy="359.27" r="2.6"/>
<circle cx="289.83" cy="362.42" r="2.6"/>
<circle cx="291.46" cy="401.32" r="2.6"/>
<circle cx="293.09" cy="360.67" r="2.6"/>
<circle cx="294.72" cy="382.75" r="2.6"/>
<circle cx="296.35" cy="408.33" r="2.6"/>
<circle cx="297.98" cy="359.27" r="2.6"/>
<circle cx="299.61" cy="370.83" r="2.6"/>
<circle cx="301.24" cy="414.63" r="2.6"/>
<circle cx="302.87" cy="360.67" r="2.6"/>
<circle cx="304.5" cy="364.17" r="2.6"/>
<circle cx="306.13" cy="356.95" r="2.6"/>
<circle cx="307.76" cy="356.92" r="2.6"/>
<circle cx="309.39" cy="357.16" r="2.6"/>
<circle cx="311.02" cy="357.46" r="2.6"/>
<circle cx="312.65" cy="357.12" r="2.6"/>
<circle cx="314.28" cy="357.07" r="2.6"/>
<circle cx="315.91" cy="356.88" r="2.6"/>
<circle cx="317.54" cy="356.97" r="2.6"/>
<circle cx="319.17" cy="357.16" r="2.6"/>
<circle cx="320.8" cy="356.95" r="2.6"/>
<circle cx="322.43" cy="357.03" r="2.6"/>
<circle cx="324.06" cy="357.11" r="2.6"/>
<circle cx="325.69" cy="357.15" r="2.6"/>
<circle cx="327.32" cy="357.23" r="2.6"/>
<circle cx="328.95" cy="356.99" r="2.6"/>
<circle cx="330.58" cy="357.43" r="2.6"/>
<circle cx="332.21" cy="357.32" r="2.6"/>
<circle cx="333.84" cy="357.16" r="2.6"/>
<circle cx="335.47" cy="357.53" r="2.6"/>
<circle cx="337.1" cy="357.27" r="2.6"/>
<circle cx="338.73" cy="355.41" r="2.6"/>
<circle cx="340.36" cy="364.87" r="2.6"/>
<circle cx="341.99" cy="431.46" r="2.6"/>
<circle cx="343.62" cy="359.62" r="2.6"/>
<circle cx="345.25" cy="360.67" r="2.6"/>
<circle cx="346.88" cy="379.94" r="2.6"/>
<circle cx="348.51" cy="380.64" r="2.6"/>
<circle cx="350.14" cy="357.16" r="2.6"/>
<circle cx="351.77" cy="357.67" r="2.6"/>
<circle cx="353.4" cy="357.34" r="2.6"/>
<circle cx="355.03" cy="357.02" r="2.6"/>
<polyline points="361.68,357.02 363.3,357.18 364.93,357.22 366.55,357.52 368.18,356.71 369.8,357.04 371.43,356.89 373.05,357.38 374.68,357.21 376.3,375.04 377.93,357.62 379.55,356.97 381.18,355.76 382.8,356.93 384.43,357.64 386.05,357.18 387.68,357.01 389.3,357.6 390.93,357.62 392.55,357.43 394.18,357.32 395.8,357.52 397.43,357.16 399.05,357.1 400.68,357.01 402.3,356.99 403.93,356.79 405.55,356.87 407.18,357.49 408.8,357.29 410.43,357.43 412.05,357.43 413.68,357.18 415.3,357.16 416.93,357.04 418.55,357.56 420.18,357.47 421.8,357.17 423.43,357.21 425.05,357.24 426.68,357.18 428.3,357.35 429.93,356.99 431.55,357.08 433.18,357.19 434.8,357.33 436.43,357.21 438.05,357.84 439.68,357.41 441.3,357.15 442.93,357.54 444.55,357.11 446.18,357.13 447.8,357.51 449.43,357.23 451.05,357.24 452.68,357.05 454.3,357.01 455.93,358.92 457.55,369.78 459.18,427.25 460.8,360.67 462.43,360.67 464.05,521.87 465.68,370.48 467.3,357.17 468.93,357.38 470.55,357.2 472.18,357.18 473.8,356.98 475.43,357.09 477.05,357.34 478.68,357.5 480.3,357.26 481.93,357.35 483.55,357.44 485.18,357.19 486.8,357.29 488.43,357.14 490.05,357.03 491.68,357.27 493.3,356.58 494.93,357.24 496.55,356.89 498.18,357.13 499.8,356.89 501.43,357.76 503.05,357.35 504.68,357.1 506.3,357.01 507.93,356.58 509.55,357.08 511.18,356.84 512.8,356.97 514.42,356.93 516.05,357.04 517.67,357.2 519.3,357.04 520.92,357.43 522.55,356.87 524.17,357.42 525.8,357.1 527.42,356.63 529.05,357.22 530.67,357.16 532.3,356.87 533.92,357.16 535.55,355.76 537.17,357.37 538.8,357.1 540.42,357.02 542.05,356.99 543.67,357.36 545.3,376.44 546.92,324.57 548.55,358.22 550.17,357.16 551.8,399.92 553.42,357.16 555.05,356.73 556.67,356.75 558.3,355.76 559.92,357.16 561.55,357.1 563.17,357.27 564.8,356.81 566.42,357.34 568.05,357 569.67,357.28 571.3,357.34 572.92,356.98 574.55,356.83 576.17,357.17 577.8,357.33 579.42,356.96 581.05,357.18 582.67,357.09 584.3,356.78 585.92,356.88 587.55,357.29 589.17,356.59 590.8,354.71 592.42,363.47 594.05,365.57 595.67,375.74 597.3,360.67 598.92,398.16 600.55,341.04 602.17,357.16 603.8,357.16 605.42,363.47 607.05,356.97 608.67,357.33 610.3,357.18 611.92,357.6 613.55,356.72 615.17,356.82 616.8,357.47 618.42,357.54 620.05,357.57 621.67,356.87 623.3,357.28" fill="none" stroke="#333" stroke-width="0.8"/>
<circle cx="361.68" cy="357.02" r="2.6"/>
<circle cx="363.3" cy="357.18" r="2.6"/>
<circle cx="364.93" cy="357.22" r="2.6"/>
<circle cx="366.55" cy="357.52" r="2.6"/>
<circle cx="368.18" cy="356.71" r="2.6"/>
<circle cx="369.8" cy="357.04" r="2.6"/>
<circle cx="371.43" cy="356.89" r="2.6"/>
<circle cx="373.05" cy="357.38" r="2.6"/>
<circle cx="374.68" cy="357.21" r="2.6"/>
<circle cx="376.3" cy="375.04" r="2.6"/>
<circle cx="377.93" cy="357.62" r="2.6"/>
<circle cx="379.55" cy="356.97" r="2.6"/>
<circle cx="381.18" cy="355.76" r="2.6"/>
<circle cx="382.8" cy="356.93" r="2.6"/>
<circle cx="384.43" cy="357.64" r="2.6"/>
<circle cx="386.05" cy="357.18" r="2.6"/>
<circle cx="387.68" cy="357.01" r="2.6"/>
<circle cx="389.3" cy="357.6" r="2.6"/>
<circle cx="390.93" cy="357.62" r="2.6"/>
<circle cx="392.55" cy="357.43" r="2.6"/>
<circle cx="394.18" cy="357.32" r="2.6"/>
<circle cx="395.8" cy="357.52" r="2.6"/>
<circle cx="397.43" cy="357.16" r="2.6"/>
<circle cx="399.05" cy="357.1" r="2.6"/>
<circle cx="400.68" cy="357.01" r="2.6"/>
<circle cx="402.3" cy="356.99" r="2.6"/>
<circle cx="403.93" cy="356.79" r="2.6"/>
<circle cx="405.55" cy="356.87" r="2.6"/>
<circle cx="407.18" cy="357.49" r="2.6"/>
<circle cx="408.8" cy="357.29" r="2.6"/>
<circle cx="410.43" cy="357.43" r="2.6"/>
<circle cx="412.05" cy="357.43" r="2.6"/>
<circle cx="413.68" cy="357.18" r="2.6"/>
<circle cx="415.3" cy="357.16" r="2.6"/>
<circle cx="416.93" cy="357.04" r="2.6"/>
<circle cx="418.55" cy="357.56" r="2.6"/>
<circle cx="420.18" cy="357.47" r="2.6"/>
<circle cx="421.8" cy="357.17" r="2.6"/>
<circle cx="423.43" cy="357.21" r="2.6"/>
<circle cx="425.05" cy="357.24" r="2.6"/>
<circle cx="426.68" cy="357.18" r="2.6"/>
<circle cx="428.3" cy="357.35" r="2.6"/>
<circle cx="429.93" cy="356.99" r="2.6"/>
<circle cx="431.55" cy="357.08" r="2.6"/>
<circle cx="433.18" cy="357.19" r="2.6"/>
<circle cx="434.8" cy="357.33" r="2.6"/>
<circle cx="436.43" cy="357.21" r="2.6"/>
<circle cx="438.05" cy="357.84" r="2.6"/>
<circle cx="439.68" cy="357.41" r="2.6"/>
<circle cx="441.3" cy="357.15" r="2.6"/>
<circle cx="442.93" cy="357.54" r="2.6"/>
<circle cx="444.55" cy="357.11" r="2.6"/>
<circle cx="446.18" cy="357.13" r="2.6"/>
<circle cx="447.8" cy="357.51" r="2.6"/>
<circle cx="449.43" cy="357.23" r="2.6"/>
<circle cx="451.05" cy="357.24" r="2.6"/>
<circle cx="452.68" cy="357.05" r="2.6"/>
<circle cx="454.3" cy="357.01" r="2.6"/>
<circle cx="455.93" cy="358.92" r="2.6"/>
<circle cx="457.55" cy="369.78" r="2.6"/>
<circle cx="459.18" cy="427.25" r="2.6"/>
<circle cx="460.8" cy="360.67" r="2.6"/>
<circle cx="462.43" cy="360.67" r="2.6"/>
<circle cx="464.05" cy="521.87" r="2.6"/>
<circle cx="465.68" cy="370.48" r="2.6"/>
<circle cx="467.3" cy="357.17" r="2.6"/>
<circle cx="468.93" cy="357.38" r="2.6"/>
<circle cx="470.55" cy="357.2" r="2.6"/>
<circle cx="472.18" cy="357.18" r="2.6"/>
<circle cx="473.8" cy="356.98" r="2.6"/>
<circle cx="475.43" cy="357.09" r="2.6"/>
<circle cx="477.05" cy="357.34" r="2.6"/>
<circle cx="478.68" cy="357.5" r="2.6"/>
<circle cx="480.3" cy="357.26" r="2.6"/>
<circle cx="481.93" cy="357.35" r="2.6"/>
<circle cx="483.55" cy="357.44" r="2.6"/>
<circle cx="485.18" cy="357.19" r="2.6"/>
<circle cx="486.8" cy="357.29" r="2.6"/>
<circle cx="488.43" cy="357.14" r="2.6"/>
<circle cx="490.05" cy="357.03" r="2.6"/>
<circle cx="491.68" cy="357.27" r="2.6"/>
<circle cx="493.3" cy="356.58" r="2.6"/>
<circle cx="494.93" cy="357.24" r="2.6"/>
<circle cx="496.55" cy="356.89" r="2.6"/>
<circle cx="498.18" cy="357.13" r="2.6"/>
<circle cx="499.8" cy="356.89" r="2.6"/>
<circle cx="501.43" cy="357.76" r="2.6"/>
<circle cx="503.05" cy="357.35" r="2.6"/>
<circle cx="504.68" cy="357.1" r="2.6"/>
<circle cx="506.3" cy="357.01" r="2.6"/>
<circle cx="507.93" cy="356.58" r="2.6"/>
<circle cx="509.55" cy="357.08" r="2.6"/>
<circle cx="511.18" cy="356.84" r="2.6"/>
<circle cx="512.8" cy="356.97" r="2.6"/>
<circle cx="514.42" cy="356.93" r="2.6"/>
<circle cx="516.05" cy="357.04" r="2.6"/>
<circle cx="517.67" cy="357.2" r="2.6"/>
<circle cx="519.3" cy="357.04" r="2.6"/>
<circle cx="520.92" cy="357.43" r="2.6"/>
<circle cx="522.55" cy="356.87" r="2.6"/>
<circle cx="524.17" cy="357.42" r="2.6"/>
<circle cx="525.8" cy="357.1" r="2.6"/>
<circle cx="527.42" cy="356.63" r="2.6"/>
<circle cx="529.05" cy="357.22" r="2.6"/>
<circle cx="530.67" cy="357.16" r="2.6"/>
<circle cx="532.3" cy="356.87" r="2.6"/>
<circle cx="533.92" cy="357.16" r="2.6"/>
<circle cx="535.55" cy="355.76" r="2.6"/>
<circle cx="537.17" cy="357.37" r="2.6"/>
<circle cx="538.8" cy="357.1" r="2.6"/>
<circle cx="540.42" cy="357.02" r="2.6"/>
<circle cx="542.05" cy="356.99" r="2.6"/>
<circle cx="543.67" cy="357.36" r="2.6"/>
<circle cx="545.3" cy="376.44" r="2.6"/>
<circle cx="546.92" cy="324.57" r="2.6"/>
<circle cx="548.55" cy="358.22" r="2.6"/>
<circle cx="550.17" cy="357.16" r="2.6"/>
<circle cx="551.8" cy="399.92" r="2.6"/>
<circle cx="553.42" cy="357.16" r="2.6"/>
<circle cx="555.05" cy="356.73" r="2.6"/>
<circle cx="556.67" cy="356.75" r="2.6"/>
<circle cx="558.3" cy="355.76" r="2.6"/>
<circle cx="559.92" cy="357.16" r="2.6"/>
<circle cx="561.55" cy="357.1" r="2.6"/>
<circle cx="563.17" cy="357.27" r="2.6"/>
<circle cx="564.8" cy="356.81" r="2.6"/>
<circle cx="566.42" cy="357.34" r="2.6"/>
<circle cx="568.05" cy="357" r="2.6"/>
<circle cx="569.67" cy="357.28" r="2.6"/>
<circle cx="571.3" cy="357.34" r="2.6"/>
<circle cx="572.92" cy="356.98" r="2.6"/>
<circle cx="574.55" cy="356.83" r="2.6"/>
<circle cx="576.17" cy="357.17" r="2.6"/>
<circle cx="577.8" cy="357.33" r="2.6"/>
<circle cx="579.42" cy="356.96" r="2.6"/>
<circle cx="581.05" cy="357.18" r="2.6"/>
<circle cx="582.67" cy="357.09" r="2.6"/>
<circle cx="584.3" cy="356.78" r="2.6"/>
<circle cx="585.92" cy="356.88" r="2.6"/>
<circle cx="587.55" cy="357.29" r="2.6"/>
<circle cx="589.17" cy="356.59" r="2.6"/>
<circle cx="590.8" cy="354.71" r="2.6"/>
<circle cx="592.42" cy="363.47" r="2.6"/>
<circle cx="594.05" cy="365.57" r="2.6"/>
<circle cx="595.67" cy="375.74" r="2.6"/>
<circle cx="597.3" cy="360.67" r="2.6"/>
<circle cx="598.92" cy="398.16" r="2.6"/>
<circle cx="600.55" cy="341.04" r="2.6"/>
<circle cx="602.17" cy="357.16" r="2.6"/>
<circle cx="603.8" cy="357.16" r="2.6"/>
<circle cx="605.42" cy="363.47" r="2.6"/>
<circle cx="607.05" cy="356.97" r="2.6"/>
<circle cx="608.67" cy="357.33" r="2.6"/>
<circle cx="610.3" cy="357.18" r="2.6"/>
<circle cx="611.92" cy="357.6" r="2.6"/>
<circle cx="613.55" cy="356.72" r="2.6"/>
<circle cx="615.17" cy="356.82" r="2.6"/>
<circle cx="616.8" cy="357.47" r="2.6"/>
<circle cx="618.42" cy="357.54" r="2.6"/>
<circle cx="620.05" cy="357.57" r="2.6"/>
<circle cx="621.67" cy="356.87" r="2.6"/>
<circle cx="623.3" cy="357.28" r="2.6"/>
</g>
<text class="l" x="143.9" y="401.9" font-size="14.0">Val71</text>
<text class="l" x="219.7" y="416.1" font-size="14.0">Met252</text>
<text class="l" x="241.9" y="438.4" font-size="14.0">Ile255</text>
<text class="l" x="284.2" y="457.9" font-size="14.0">Val258</text>
<text class="l" x="328.3" y="448.6" font-size="14.0">Thr283</text>
<text class="l" x="365.5" y="392.2" font-size="14.0">Thr368</text>
<text class="l" x="406.7" y="439.1" font-size="14.0">Phe419</text>
<text class="l" x="414.1" y="528.2" font-size="14.0">Arg422</text>
<text class="l" x="495" y="329.6" font-size="14.0">Glu473</text>
<text class="l" x="573.7" y="333.9" font-size="14.0">Asp506</text>
<text class="l" x="500.6" y="391.6" font-size="14.0">Leu472</text>
<text class="l" x="523.9" y="416.1" font-size="14.0">Tyr476</text>
<text class="l" x="573.7" y="413.7" font-size="14.0">Met505</text>
<line x1="268.9" y1="413.7" x2="283.19" y2="406.34" stroke="#111" stroke-width="1.3"/>
<path d="M289.1,403.3 L282.07,410.4 L282.51,406.69 L279.23,404.89 Z" fill="#111"/>
<line x1="282.3" y1="429.4" x2="291.06" y2="417.03" stroke="#111" stroke-width="1.3"/>
<path d="M294.9,411.6 L291.94,421.15 L290.62,417.65 L286.88,417.56 Z" fill="#111"/>
<line x1="308.4" y1="443.3" x2="304.08" y2="425.66" stroke="#111" stroke-width="1.3"/>
<path d="M302.5,419.2 L307.77,427.69 L304.26,426.4 L301.75,429.16 Z" fill="#111"/>
<rect x="55.5" y="516.6" width="115.9" height="16.7" fill="#fff" stroke="#b4b4b4" stroke-width="1"/>
<line x1="57" y1="525.3" x2="80.7" y2="525.3" stroke="#333" stroke-width="1.1"/>
<circle cx="68.7" cy="525.3" r="2.6"/>
<text x="83.7" y="529.4" font-weight="bold" font-size="11.4">NLRP3/NP3-146</text>
</g>
<g fill="#050505">
<line x1="49.6" y1="599.2" x2="188.8" y2="599.2" stroke="#111" stroke-width="1.25"/>
<line x1="199.2" y1="599.2" x2="318.8" y2="599.2" stroke="#111" stroke-width="1.25"/>
<line x1="329.2" y1="599.2" x2="393.3" y2="599.2" stroke="#111" stroke-width="1.25"/>
<line x1="403.7" y1="599.2" x2="624.2" y2="599.2" stroke="#111" stroke-width="1.25"/>
<line x1="49.6" y1="844.5" x2="188.8" y2="844.5" stroke="#111" stroke-width="1.25"/>
<line x1="199.2" y1="844.5" x2="318.8" y2="844.5" stroke="#111" stroke-width="1.25"/>
<line x1="329.2" y1="844.5" x2="393.3" y2="844.5" stroke="#111" stroke-width="1.25"/>
<line x1="403.7" y1="844.5" x2="624.2" y2="844.5" stroke="#111" stroke-width="1.25"/>
<line x1="50.2" y1="599.2" x2="50.2" y2="844.5" stroke="#111" stroke-width="1.25"/>
<line x1="623.6" y1="599.2" x2="623.6" y2="844.5" stroke="#111" stroke-width="1.25"/>
<line x1="184.3" y1="603" x2="193.5" y2="595.4" stroke="#111" stroke-width="1.2"/>
<line x1="194.5" y1="603" x2="203.7" y2="595.4" stroke="#111" stroke-width="1.2"/>
<line x1="184.3" y1="848.3" x2="193.5" y2="840.7" stroke="#111" stroke-width="1.2"/>
<line x1="194.5" y1="848.3" x2="203.7" y2="840.7" stroke="#111" stroke-width="1.2"/>
<line x1="314.3" y1="603" x2="323.5" y2="595.4" stroke="#111" stroke-width="1.2"/>
<line x1="324.5" y1="603" x2="333.7" y2="595.4" stroke="#111" stroke-width="1.2"/>
<line x1="314.3" y1="848.3" x2="323.5" y2="840.7" stroke="#111" stroke-width="1.2"/>
<line x1="324.5" y1="848.3" x2="333.7" y2="840.7" stroke="#111" stroke-width="1.2"/>
<line x1="388.8" y1="603" x2="398" y2="595.4" stroke="#111" stroke-width="1.2"/>
<line x1="399" y1="603" x2="408.2" y2="595.4" stroke="#111" stroke-width="1.2"/>
<line x1="388.8" y1="848.3" x2="398" y2="840.7" stroke="#111" stroke-width="1.2"/>
<line x1="399" y1="848.3" x2="408.2" y2="840.7" stroke="#111" stroke-width="1.2"/>
<line x1="46.4" y1="599.2" x2="50.2" y2="599.2" stroke="#111" stroke-width="1.1"/>
<line x1="48.6" y1="626.46" x2="50.2" y2="626.46" stroke="#111" stroke-width="1.1"/>
<line x1="46.4" y1="653.71" x2="50.2" y2="653.71" stroke="#111" stroke-width="1.1"/>
<line x1="48.6" y1="680.97" x2="50.2" y2="680.97" stroke="#111" stroke-width="1.1"/>
<line x1="46.4" y1="708.22" x2="50.2" y2="708.22" stroke="#111" stroke-width="1.1"/>
<line x1="48.6" y1="735.48" x2="50.2" y2="735.48" stroke="#111" stroke-width="1.1"/>
<line x1="46.4" y1="762.73" x2="50.2" y2="762.73" stroke="#111" stroke-width="1.1"/>
<line x1="48.6" y1="789.99" x2="50.2" y2="789.99" stroke="#111" stroke-width="1.1"/>
<line x1="46.4" y1="817.24" x2="50.2" y2="817.24" stroke="#111" stroke-width="1.1"/>
<line x1="48.6" y1="844.5" x2="50.2" y2="844.5" stroke="#111" stroke-width="1.1"/>
<text x="43.1" y="602.8" text-anchor="end" font-weight="bold" font-size="11">4</text>
<text x="43.1" y="657.31" text-anchor="end" font-weight="bold" font-size="11">2</text>
<text x="43.1" y="711.82" text-anchor="end" font-weight="bold" font-size="11">0</text>
<text x="43.1" y="766.33" text-anchor="end" font-weight="bold" font-size="11">-2</text>
<text x="43.1" y="820.84" text-anchor="end" font-weight="bold" font-size="11">-4</text>
<line x1="50.1" y1="844.5" x2="50.1" y2="840.7" stroke="#111" stroke-width="1.1"/>
<text x="50.1" y="857.8" text-anchor="middle" font-weight="bold" font-size="11.5">0</text>
<line x1="90.95" y1="844.5" x2="90.95" y2="842.5" stroke="#111" stroke-width="1.1"/>
<line x1="131.8" y1="844.5" x2="131.8" y2="840.7" stroke="#111" stroke-width="1.1"/>
<text x="131.8" y="857.8" text-anchor="middle" font-weight="bold" font-size="11.5">50</text>
<line x1="172.65" y1="844.5" x2="172.65" y2="842.5" stroke="#111" stroke-width="1.1"/>
<line x1="218.7" y1="844.5" x2="218.7" y2="840.7" stroke="#111" stroke-width="1.1"/>
<text x="218.7" y="857.8" text-anchor="middle" font-weight="bold" font-size="11.5">150</text>
<line x1="269.45" y1="844.5" x2="269.45" y2="842.5" stroke="#111" stroke-width="1.1"/>
<line x1="343.5" y1="844.5" x2="343.5" y2="840.7" stroke="#111" stroke-width="1.1"/>
<text x="343.5" y="857.8" text-anchor="middle" font-weight="bold" font-size="11.5">250</text>
<line x1="379.75" y1="844.5" x2="379.75" y2="842.5" stroke="#111" stroke-width="1.1"/>
<line x1="417.6" y1="844.5" x2="417.6" y2="842.5" stroke="#111" stroke-width="1.1"/>
<line x1="453.1" y1="844.5" x2="453.1" y2="840.7" stroke="#111" stroke-width="1.1"/>
<text x="453.1" y="857.8" text-anchor="middle" font-weight="bold" font-size="11.5">400</text>
<line x1="488.6" y1="844.5" x2="488.6" y2="842.5" stroke="#111" stroke-width="1.1"/>
<line x1="524.1" y1="844.5" x2="524.1" y2="840.7" stroke="#111" stroke-width="1.1"/>
<text x="524.1" y="857.8" text-anchor="middle" font-weight="bold" font-size="11.5">450</text>
<line x1="559.6" y1="844.5" x2="559.6" y2="842.5" stroke="#111" stroke-width="1.1"/>
<line x1="595.1" y1="844.5" x2="595.1" y2="840.7" stroke="#111" stroke-width="1.1"/>
<text x="595.1" y="857.8" text-anchor="middle" font-weight="bold" font-size="11.5">500</text>
<text x="324.8" y="874.5" font-weight="bold" font-size="12.6">Residues</text>
<text transform="translate(21.2 727.6) rotate(-90)" text-anchor="middle" font-weight="bold" font-size="12.7">Energy (kcal/mol)</text>
<clipPath id="c599"><rect x="50.8" y="599.8" width="576.4" height="244.1"/></clipPath>
<g clip-path="url(#c599)">
<polyline points="50.1,708.27 51.73,708.46 53.37,708.31 55,709.04 56.64,708.2 58.27,709.3 59.9,708.28 61.54,707.99 63.17,707.87 64.81,708.4 66.44,708.9 68.07,708.1 69.71,708.59 71.34,707.05 72.98,698.96 74.61,707.65 76.24,708.31 77.88,708.58 79.51,708.75 81.64,718.58 84.41,694.59 86.05,708.93 87.68,708.49 89.15,702.23 90.95,708 92.58,707.84 94.22,707.8 95.85,706.65 97.49,708.75 99.12,708.21 100.75,706.13 102.39,709.62 104.02,708.61 105.66,700.05 107.29,708.1 108.92,708.11 110.56,707.92 112.19,708.4 113.83,707.95 115.46,708.18 117.09,707.64 118.73,709.64 120.36,708.89 122,708.22 123.63,709 125.26,709.01 126.9,707.75 128.53,708.71 130.17,707.75 131.8,707.66 133.43,707.99 135.07,707.84 136.7,708.3 138.34,709.28 139.97,708.24 141.6,707.88 143.24,708.62 144.87,708.3 146.51,707.66 148.14,708.88 149.77,707.74 151.41,706.83 153.04,708.64 154.68,708.11 156.31,708.34 157.94,707.07 159.58,707.98 161.21,707.55 162.85,708.74 164.48,733.57 166.28,728.12 168.07,709.59 169.38,708.23 171.02,708.23 173.47,667.34 175.1,706.86 177.55,709.55 179.19,707.14 180.82,707.55 182.21,686.42 183.6,703.04 185.72,709.53 187.36,707.66 188.99,708.32 190.62,707.89" fill="none" stroke="#333" stroke-width="0.8"/>
<circle cx="50.1" cy="708.27" r="2.6"/>
<circle cx="51.73" cy="708.46" r="2.6"/>
<circle cx="53.37" cy="708.31" r="2.6"/>
<circle cx="55" cy="709.04" r="2.6"/>
<circle cx="56.64" cy="708.2" r="2.6"/>
<circle cx="58.27" cy="709.3" r="2.6"/>
<circle cx="59.9" cy="708.28" r="2.6"/>
<circle cx="61.54" cy="707.99" r="2.6"/>
<circle cx="63.17" cy="707.87" r="2.6"/>
<circle cx="64.81" cy="708.4" r="2.6"/>
<circle cx="66.44" cy="708.9" r="2.6"/>
<circle cx="68.07" cy="708.1" r="2.6"/>
<circle cx="69.71" cy="708.59" r="2.6"/>
<circle cx="71.34" cy="707.05" r="2.6"/>
<circle cx="72.98" cy="698.96" r="2.6"/>
<circle cx="74.61" cy="707.65" r="2.6"/>
<circle cx="76.24" cy="708.31" r="2.6"/>
<circle cx="77.88" cy="708.58" r="2.6"/>
<circle cx="79.51" cy="708.75" r="2.6"/>
<circle cx="81.64" cy="718.58" r="2.6"/>
<circle cx="84.41" cy="694.59" r="2.6"/>
<circle cx="86.05" cy="708.93" r="2.6"/>
<circle cx="87.68" cy="708.49" r="2.6"/>
<circle cx="89.15" cy="702.23" r="2.6"/>
<circle cx="90.95" cy="708" r="2.6"/>
<circle cx="92.58" cy="707.84" r="2.6"/>
<circle cx="94.22" cy="707.8" r="2.6"/>
<circle cx="95.85" cy="706.65" r="2.6"/>
<circle cx="97.49" cy="708.75" r="2.6"/>
<circle cx="99.12" cy="708.21" r="2.6"/>
<circle cx="100.75" cy="706.13" r="2.6"/>
<circle cx="102.39" cy="709.62" r="2.6"/>
<circle cx="104.02" cy="708.61" r="2.6"/>
<circle cx="105.66" cy="700.05" r="2.6"/>
<circle cx="107.29" cy="708.1" r="2.6"/>
<circle cx="108.92" cy="708.11" r="2.6"/>
<circle cx="110.56" cy="707.92" r="2.6"/>
<circle cx="112.19" cy="708.4" r="2.6"/>
<circle cx="113.83" cy="707.95" r="2.6"/>
<circle cx="115.46" cy="708.18" r="2.6"/>
<circle cx="117.09" cy="707.64" r="2.6"/>
<circle cx="118.73" cy="709.64" r="2.6"/>
<circle cx="120.36" cy="708.89" r="2.6"/>
<circle cx="122" cy="708.22" r="2.6"/>
<circle cx="123.63" cy="709" r="2.6"/>
<circle cx="125.26" cy="709.01" r="2.6"/>
<circle cx="126.9" cy="707.75" r="2.6"/>
<circle cx="128.53" cy="708.71" r="2.6"/>
<circle cx="130.17" cy="707.75" r="2.6"/>
<circle cx="131.8" cy="707.66" r="2.6"/>
<circle cx="133.43" cy="707.99" r="2.6"/>
<circle cx="135.07" cy="707.84" r="2.6"/>
<circle cx="136.7" cy="708.3" r="2.6"/>
<circle cx="138.34" cy="709.28" r="2.6"/>
<circle cx="139.97" cy="708.24" r="2.6"/>
<circle cx="141.6" cy="707.88" r="2.6"/>
<circle cx="143.24" cy="708.62" r="2.6"/>
<circle cx="144.87" cy="708.3" r="2.6"/>
<circle cx="146.51" cy="707.66" r="2.6"/>
<circle cx="148.14" cy="708.88" r="2.6"/>
<circle cx="149.77" cy="707.74" r="2.6"/>
<circle cx="151.41" cy="706.83" r="2.6"/>
<circle cx="153.04" cy="708.64" r="2.6"/>
<circle cx="154.68" cy="708.11" r="2.6"/>
<circle cx="156.31" cy="708.34" r="2.6"/>
<circle cx="157.94" cy="707.07" r="2.6"/>
<circle cx="159.58" cy="707.98" r="2.6"/>
<circle cx="161.21" cy="707.55" r="2.6"/>
<circle cx="162.85" cy="708.74" r="2.6"/>
<circle cx="164.48" cy="733.57" r="2.6"/>
<circle cx="166.28" cy="728.12" r="2.6"/>
<circle cx="168.07" cy="709.59" r="2.6"/>
<circle cx="169.38" cy="708.23" r="2.6"/>
<circle cx="171.02" cy="708.23" r="2.6"/>
<circle cx="173.47" cy="667.34" r="2.6"/>
<circle cx="175.1" cy="706.86" r="2.6"/>
<circle cx="177.55" cy="709.55" r="2.6"/>
<circle cx="179.19" cy="707.14" r="2.6"/>
<circle cx="180.82" cy="707.55" r="2.6"/>
<circle cx="182.21" cy="686.42" r="2.6"/>
<circle cx="183.6" cy="703.04" r="2.6"/>
<circle cx="185.72" cy="709.53" r="2.6"/>
<circle cx="187.36" cy="707.66" r="2.6"/>
<circle cx="188.99" cy="708.32" r="2.6"/>
<circle cx="190.62" cy="707.89" r="2.6"/>
<polyline points="198.4,707.95 200.43,709.35 202.46,708.38 204.49,707.1 206.52,708.65 208.55,708.99 210.99,732.75 213.83,707.13 217.08,742.29 218.9,718.31 220.73,709.24 222.76,709.14 224.79,707.97 226.82,706.95 228.85,707.9 230.88,708.04 232.91,706.55 234.94,708.61 236.97,708.73 239,708.64 241.03,708.63 243.06,709.8 245.09,709.92 247.12,708.82 249.15,708.85 251.18,710.02 253.21,709.19 255.24,709.45 257.27,708.69 259.3,709.13 261.33,709.1 263.36,709.31 265.39,708.25 267.42,708 269.45,709.32 271.48,708.41 273.51,709.61 275.54,708.99 277.57,708.48 279.6,707.9 281.63,709.33 283.46,704.95 285.69,709.1 287.72,708.89 289.75,710.16 291.78,709.03 293.81,709.55 295.84,708.76 297.87,709.89 299.9,710.52 301.93,708.19 303.96,708.03 305.99,708.63 308.02,707.56 309.64,605.47 310.86,751.01 313.5,739.29 317.15,708.22 320,710.95" fill="none" stroke="#333" stroke-width="0.8"/>
<circle cx="198.4" cy="707.95" r="2.6"/>
<circle cx="200.43" cy="709.35" r="2.6"/>
<circle cx="202.46" cy="708.38" r="2.6"/>
<circle cx="204.49" cy="707.1" r="2.6"/>
<circle cx="206.52" cy="708.65" r="2.6"/>
<circle cx="208.55" cy="708.99" r="2.6"/>
<circle cx="210.99" cy="732.75" r="2.6"/>
<circle cx="213.83" cy="707.13" r="2.6"/>
<circle cx="217.08" cy="742.29" r="2.6"/>
<circle cx="218.9" cy="718.31" r="2.6"/>
<circle cx="220.73" cy="709.24" r="2.6"/>
<circle cx="222.76" cy="709.14" r="2.6"/>
<circle cx="224.79" cy="707.97" r="2.6"/>
<circle cx="226.82" cy="706.95" r="2.6"/>
<circle cx="228.85" cy="707.9" r="2.6"/>
<circle cx="230.88" cy="708.04" r="2.6"/>
<circle cx="232.91" cy="706.55" r="2.6"/>
<circle cx="234.94" cy="708.61" r="2.6"/>
<circle cx="236.97" cy="708.73" r="2.6"/>
<circle cx="239" cy="708.64" r="2.6"/>
<circle cx="241.03" cy="708.63" r="2.6"/>
<circle cx="243.06" cy="709.8" r="2.6"/>
<circle cx="245.09" cy="709.92" r="2.6"/>
<circle cx="247.12" cy="708.82" r="2.6"/>
<circle cx="249.15" cy="708.85" r="2.6"/>
<circle cx="251.18" cy="710.02" r="2.6"/>
<circle cx="253.21" cy="709.19" r="2.6"/>
<circle cx="255.24" cy="709.45" r="2.6"/>
<circle cx="257.27" cy="708.69" r="2.6"/>
<circle cx="259.3" cy="709.13" r="2.6"/>
<circle cx="261.33" cy="709.1" r="2.6"/>
<circle cx="263.36" cy="709.31" r="2.6"/>
<circle cx="265.39" cy="708.25" r="2.6"/>
<circle cx="267.42" cy="708" r="2.6"/>
<circle cx="269.45" cy="709.32" r="2.6"/>
<circle cx="271.48" cy="708.41" r="2.6"/>
<circle cx="273.51" cy="709.61" r="2.6"/>
<circle cx="275.54" cy="708.99" r="2.6"/>
<circle cx="277.57" cy="708.48" r="2.6"/>
<circle cx="279.6" cy="707.9" r="2.6"/>
<circle cx="281.63" cy="709.33" r="2.6"/>
<circle cx="283.46" cy="704.95" r="2.6"/>
<circle cx="285.69" cy="709.1" r="2.6"/>
<circle cx="287.72" cy="708.89" r="2.6"/>
<circle cx="289.75" cy="710.16" r="2.6"/>
<circle cx="291.78" cy="709.03" r="2.6"/>
<circle cx="293.81" cy="709.55" r="2.6"/>
<circle cx="295.84" cy="708.76" r="2.6"/>
<circle cx="297.87" cy="709.89" r="2.6"/>
<circle cx="299.9" cy="710.52" r="2.6"/>
<circle cx="301.93" cy="708.19" r="2.6"/>
<circle cx="303.96" cy="708.03" r="2.6"/>
<circle cx="305.99" cy="708.63" r="2.6"/>
<circle cx="308.02" cy="707.56" r="2.6"/>
<circle cx="309.64" cy="605.47" r="2.6"/>
<circle cx="310.86" cy="751.01" r="2.6"/>
<circle cx="313.5" cy="739.29" r="2.6"/>
<circle cx="317.15" cy="708.22" r="2.6"/>
<circle cx="320" cy="710.95" r="2.6"/>
<polyline points="327.55,708.43 329,708.68 330.45,707.86 331.9,709.4 333.35,708.73 334.8,710.42 336.25,709.77 337.7,710.52 339.15,710.17 340.6,710.89 342.05,710.18 343.5,709.16 344.95,710.92 346.4,708.63 347.85,715.31 349.3,717.22 350.75,708.71 352.2,706.57 353.94,704.68 355.1,706.46 356.55,705.82 358,707.51 359.45,708.16 360.9,706.13 362.35,705.99 363.8,706.12 365.25,704.61 367.43,704.13 369.6,706.43 371.05,706.4 372.5,705.89 373.95,706.31 375.4,705.34 376.85,707.52 378.3,706.87 379.75,709.09 381.2,705.98 382.65,706.87 384.1,705.89 385.55,704.97 387,706.59 388.45,706.78 389.61,704.68 391.35,706.96 392.8,707.22 394.25,707.06" fill="none" stroke="#333" stroke-width="0.8"/>
<circle cx="327.55" cy="708.43" r="2.6"/>
<circle cx="329" cy="708.68" r="2.6"/>
<circle cx="330.45" cy="707.86" r="2.6"/>
<circle cx="331.9" cy="709.4" r="2.6"/>
<circle cx="333.35" cy="708.73" r="2.6"/>
<circle cx="334.8" cy="710.42" r="2.6"/>
<circle cx="336.25" cy="709.77" r="2.6"/>
<circle cx="337.7" cy="710.52" r="2.6"/>
<circle cx="339.15" cy="710.17" r="2.6"/>
<circle cx="340.6" cy="710.89" r="2.6"/>
<circle cx="342.05" cy="710.18" r="2.6"/>
<circle cx="343.5" cy="709.16" r="2.6"/>
<circle cx="344.95" cy="710.92" r="2.6"/>
<circle cx="346.4" cy="708.63" r="2.6"/>
<circle cx="347.85" cy="715.31" r="2.6"/>
<circle cx="349.3" cy="717.22" r="2.6"/>
<circle cx="350.75" cy="708.71" r="2.6"/>
<circle cx="352.2" cy="706.57" r="2.6"/>
<circle cx="353.94" cy="704.68" r="2.6"/>
<circle cx="355.1" cy="706.46" r="2.6"/>
<circle cx="356.55" cy="705.82" r="2.6"/>
<circle cx="358" cy="707.51" r="2.6"/>
<circle cx="359.45" cy="708.16" r="2.6"/>
<circle cx="360.9" cy="706.13" r="2.6"/>
<circle cx="362.35" cy="705.99" r="2.6"/>
<circle cx="363.8" cy="706.12" r="2.6"/>
<circle cx="365.25" cy="704.61" r="2.6"/>
<circle cx="367.43" cy="704.13" r="2.6"/>
<circle cx="369.6" cy="706.43" r="2.6"/>
<circle cx="371.05" cy="706.4" r="2.6"/>
<circle cx="372.5" cy="705.89" r="2.6"/>
<circle cx="373.95" cy="706.31" r="2.6"/>
<circle cx="375.4" cy="705.34" r="2.6"/>
<circle cx="376.85" cy="707.52" r="2.6"/>
<circle cx="378.3" cy="706.87" r="2.6"/>
<circle cx="379.75" cy="709.09" r="2.6"/>
<circle cx="381.2" cy="705.98" r="2.6"/>
<circle cx="382.65" cy="706.87" r="2.6"/>
<circle cx="384.1" cy="705.89" r="2.6"/>
<circle cx="385.55" cy="704.97" r="2.6"/>
<circle cx="387" cy="706.59" r="2.6"/>
<circle cx="388.45" cy="706.78" r="2.6"/>
<circle cx="389.61" cy="704.68" r="2.6"/>
<circle cx="391.35" cy="706.96" r="2.6"/>
<circle cx="392.8" cy="707.22" r="2.6"/>
<circle cx="394.25" cy="707.06" r="2.6"/>
<polyline points="401.98,707.74 403.4,708.19 404.82,708.17 406.24,708.35 407.66,707.54 409.08,707.85 410.5,708.33 412.35,787.26 414.76,707.72 416.18,708.34 417.6,709.09 419.02,707.13 420.44,707.87 421.86,708.94 423.28,707.41 424.7,707.96 426.12,709.4 427.54,707.01 428.96,707.97 430.38,707.55 431.8,708.07 433.22,708.33 434.64,709.38 436.06,707.49 437.48,708.2 438.9,708.44 440.32,707.96 441.74,708.16 443.16,707.72 444.58,708.5 446,708.25 447.42,709.83 448.84,708.54 450.26,707.72 451.68,707.22 453.1,708.5 454.52,708.31 455.94,707.03 457.36,708.47 458.78,707.67 460.2,706.96 461.62,708.19 463.04,707.3 464.46,708.76 465.88,708.07 467.3,708.28 468.72,708.14 470.14,707.37 472.41,703.59 473.69,714.49 475.54,731.12 477.24,706.43 478.66,739.57 480.36,721.3 482.21,709.59 484.62,779.09 486.19,709.59 488.6,708.72 490.02,708.65 491.44,707.85 492.86,709.01 494.28,707.85 495.7,707.79 497.12,708.43 498.54,707.82 499.96,709.38 501.38,707.65 502.8,709.38 504.22,708.74 505.64,708.64 507.06,708.52 508.48,707.58 509.9,708.16 511.32,708.52 512.74,707.81 514.16,707.04 515.58,708.22 517,707.95 518.42,707.29 519.84,708.02 521.26,709.19 522.68,706.35 524.1,706.57 525.52,709.71 526.94,708.25 528.36,707.91 529.78,707.5 531.2,707.72 532.62,708.43 534.04,709.01 535.46,708.15 536.88,707.45 538.3,709.04 539.72,708.99 541.14,708.24 542.56,709.68 543.98,708.42 545.4,708.55 546.82,707.88 548.24,708.75 549.66,708.88 551.08,708.52 552.5,708.26 553.92,708.72 555.06,725.67 556.76,704.41 558.18,708.21 559.74,715.04 561.16,815.61 562.44,718.85 564.85,704.95 567.13,774.18 568.55,708.22 570.96,707.66 572.38,707.33 573.8,706.94 575.22,708.81 576.64,708.54 578.06,710.08 579.48,706.8 580.9,708.77 582.32,708.25 583.74,707.83 585.16,709.24 586.58,707.87 588,708.24 589.42,709.59 590.84,708 592.26,707.33 593.68,709.62 595.1,707.62 596.52,708.07 597.94,707.87 599.36,707.89 601.35,705.5 602.48,722.67 604.05,658.89 605.75,708.22 607.88,707.24 609.3,708.39 610.72,707.57 612.14,708.53 613.56,707.68 614.98,708.83 616.4,708.3 617.82,706.92 619.24,707.89 620.66,708.34 622.08,709.08 623.5,708.81" fill="none" stroke="#333" stroke-width="0.8"/>
<circle cx="401.98" cy="707.74" r="2.6"/>
<circle cx="403.4" cy="708.19" r="2.6"/>
<circle cx="404.82" cy="708.17" r="2.6"/>
<circle cx="406.24" cy="708.35" r="2.6"/>
<circle cx="407.66" cy="707.54" r="2.6"/>
<circle cx="409.08" cy="707.85" r="2.6"/>
<circle cx="410.5" cy="708.33" r="2.6"/>
<circle cx="412.35" cy="787.26" r="2.6"/>
<circle cx="414.76" cy="707.72" r="2.6"/>
<circle cx="416.18" cy="708.34" r="2.6"/>
<circle cx="417.6" cy="709.09" r="2.6"/>
<circle cx="419.02" cy="707.13" r="2.6"/>
<circle cx="420.44" cy="707.87" r="2.6"/>
<circle cx="421.86" cy="708.94" r="2.6"/>
<circle cx="423.28" cy="707.41" r="2.6"/>
<circle cx="424.7" cy="707.96" r="2.6"/>
<circle cx="426.12" cy="709.4" r="2.6"/>
<circle cx="427.54" cy="707.01" r="2.6"/>
<circle cx="428.96" cy="707.97" r="2.6"/>
<circle cx="430.38" cy="707.55" r="2.6"/>
<circle cx="431.8" cy="708.07" r="2.6"/>
<circle cx="433.22" cy="708.33" r="2.6"/>
<circle cx="434.64" cy="709.38" r="2.6"/>
<circle cx="436.06" cy="707.49" r="2.6"/>
<circle cx="437.48" cy="708.2" r="2.6"/>
<circle cx="438.9" cy="708.44" r="2.6"/>
<circle cx="440.32" cy="707.96" r="2.6"/>
<circle cx="441.74" cy="708.16" r="2.6"/>
<circle cx="443.16" cy="707.72" r="2.6"/>
<circle cx="444.58" cy="708.5" r="2.6"/>
<circle cx="446" cy="708.25" r="2.6"/>
<circle cx="447.42" cy="709.83" r="2.6"/>
<circle cx="448.84" cy="708.54" r="2.6"/>
<circle cx="450.26" cy="707.72" r="2.6"/>
<circle cx="451.68" cy="707.22" r="2.6"/>
<circle cx="453.1" cy="708.5" r="2.6"/>
<circle cx="454.52" cy="708.31" r="2.6"/>
<circle cx="455.94" cy="707.03" r="2.6"/>
<circle cx="457.36" cy="708.47" r="2.6"/>
<circle cx="458.78" cy="707.67" r="2.6"/>
<circle cx="460.2" cy="706.96" r="2.6"/>
<circle cx="461.62" cy="708.19" r="2.6"/>
<circle cx="463.04" cy="707.3" r="2.6"/>
<circle cx="464.46" cy="708.76" r="2.6"/>
<circle cx="465.88" cy="708.07" r="2.6"/>
<circle cx="467.3" cy="708.28" r="2.6"/>
<circle cx="468.72" cy="708.14" r="2.6"/>
<circle cx="470.14" cy="707.37" r="2.6"/>
<circle cx="472.41" cy="703.59" r="2.6"/>
<circle cx="473.69" cy="714.49" r="2.6"/>
<circle cx="475.54" cy="731.12" r="2.6"/>
<circle cx="477.24" cy="706.43" r="2.6"/>
<circle cx="478.66" cy="739.57" r="2.6"/>
<circle cx="480.36" cy="721.3" r="2.6"/>
<circle cx="482.21" cy="709.59" r="2.6"/>
<circle cx="484.62" cy="779.09" r="2.6"/>
<circle cx="486.19" cy="709.59" r="2.6"/>
<circle cx="488.6" cy="708.72" r="2.6"/>
<circle cx="490.02" cy="708.65" r="2.6"/>
<circle cx="491.44" cy="707.85" r="2.6"/>
<circle cx="492.86" cy="709.01" r="2.6"/>
<circle cx="494.28" cy="707.85" r="2.6"/>
<circle cx="495.7" cy="707.79" r="2.6"/>
<circle cx="497.12" cy="708.43" r="2.6"/>
<circle cx="498.54" cy="707.82" r="2.6"/>
<circle cx="499.96" cy="709.38" r="2.6"/>
<circle cx="501.38" cy="707.65" r="2.6"/>
<circle cx="502.8" cy="709.38" r="2.6"/>
<circle cx="504.22" cy="708.74" r="2.6"/>
<circle cx="505.64" cy="708.64" r="2.6"/>
<circle cx="507.06" cy="708.52" r="2.6"/>
<circle cx="508.48" cy="707.58" r="2.6"/>
<circle cx="509.9" cy="708.16" r="2.6"/>
<circle cx="511.32" cy="708.52" r="2.6"/>
<circle cx="512.74" cy="707.81" r="2.6"/>
<circle cx="514.16" cy="707.04" r="2.6"/>
<circle cx="515.58" cy="708.22" r="2.6"/>
<circle cx="517" cy="707.95" r="2.6"/>
<circle cx="518.42" cy="707.29" r="2.6"/>
<circle cx="519.84" cy="708.02" r="2.6"/>
<circle cx="521.26" cy="709.19" r="2.6"/>
<circle cx="522.68" cy="706.35" r="2.6"/>
<circle cx="524.1" cy="706.57" r="2.6"/>
<circle cx="525.52" cy="709.71" r="2.6"/>
<circle cx="526.94" cy="708.25" r="2.6"/>
<circle cx="528.36" cy="707.91" r="2.6"/>
<circle cx="529.78" cy="707.5" r="2.6"/>
<circle cx="531.2" cy="707.72" r="2.6"/>
<circle cx="532.62" cy="708.43" r="2.6"/>
<circle cx="534.04" cy="709.01" r="2.6"/>
<circle cx="535.46" cy="708.15" r="2.6"/>
<circle cx="536.88" cy="707.45" r="2.6"/>
<circle cx="538.3" cy="709.04" r="2.6"/>
<circle cx="539.72" cy="708.99" r="2.6"/>
<circle cx="541.14" cy="708.24" r="2.6"/>
<circle cx="542.56" cy="709.68" r="2.6"/>
<circle cx="543.98" cy="708.42" r="2.6"/>
<circle cx="545.4" cy="708.55" r="2.6"/>
<circle cx="546.82" cy="707.88" r="2.6"/>
<circle cx="548.24" cy="708.75" r="2.6"/>
<circle cx="549.66" cy="708.88" r="2.6"/>
<circle cx="551.08" cy="708.52" r="2.6"/>
<circle cx="552.5" cy="708.26" r="2.6"/>
<circle cx="553.92" cy="708.72" r="2.6"/>
<circle cx="555.06" cy="725.67" r="2.6"/>
<circle cx="556.76" cy="704.41" r="2.6"/>
<circle cx="558.18" cy="708.21" r="2.6"/>
<circle cx="559.74" cy="715.04" r="2.6"/>
<circle cx="561.16" cy="815.61" r="2.6"/>
<circle cx="562.44" cy="718.85" r="2.6"/>
<circle cx="564.85" cy="704.95" r="2.6"/>
<circle cx="567.13" cy="774.18" r="2.6"/>
<circle cx="568.55" cy="708.22" r="2.6"/>
<circle cx="570.96" cy="707.66" r="2.6"/>
<circle cx="572.38" cy="707.33" r="2.6"/>
<circle cx="573.8" cy="706.94" r="2.6"/>
<circle cx="575.22" cy="708.81" r="2.6"/>
<circle cx="576.64" cy="708.54" r="2.6"/>
<circle cx="578.06" cy="710.08" r="2.6"/>
<circle cx="579.48" cy="706.8" r="2.6"/>
<circle cx="580.9" cy="708.77" r="2.6"/>
<circle cx="582.32" cy="708.25" r="2.6"/>
<circle cx="583.74" cy="707.83" r="2.6"/>
<circle cx="585.16" cy="709.24" r="2.6"/>
<circle cx="586.58" cy="707.87" r="2.6"/>
<circle cx="588" cy="708.24" r="2.6"/>
<circle cx="589.42" cy="709.59" r="2.6"/>
<circle cx="590.84" cy="708" r="2.6"/>
<circle cx="592.26" cy="707.33" r="2.6"/>
<circle cx="593.68" cy="709.62" r="2.6"/>
<circle cx="595.1" cy="707.62" r="2.6"/>
<circle cx="596.52" cy="708.07" r="2.6"/>
<circle cx="597.94" cy="707.87" r="2.6"/>
<circle cx="599.36" cy="707.89" r="2.6"/>
<circle cx="601.35" cy="705.5" r="2.6"/>
<circle cx="602.48" cy="722.67" r="2.6"/>
<circle cx="604.05" cy="658.89" r="2.6"/>
<circle cx="605.75" cy="708.22" r="2.6"/>
<circle cx="607.88" cy="707.24" r="2.6"/>
<circle cx="609.3" cy="708.39" r="2.6"/>
<circle cx="610.72" cy="707.57" r="2.6"/>
<circle cx="612.14" cy="708.53" r="2.6"/>
<circle cx="613.56" cy="707.68" r="2.6"/>
<circle cx="614.98" cy="708.83" r="2.6"/>
<circle cx="616.4" cy="708.3" r="2.6"/>
<circle cx="617.82" cy="706.92" r="2.6"/>
<circle cx="619.24" cy="707.89" r="2.6"/>
<circle cx="620.66" cy="708.34" r="2.6"/>
<circle cx="622.08" cy="709.08" r="2.6"/>
<circle cx="623.5" cy="708.81" r="2.6"/>
</g>
<text class="l" x="156.7" y="660.9" font-size="14.0">Lys76</text>
<text class="l" x="102.3" y="745.9" font-size="14.0">Val71</text>
<text class="l" x="158.1" y="762.4" font-size="14.0">Val71</text>
<text class="l" x="203.8" y="762" font-size="14.0">Asp149</text>
<text class="l" x="256.6" y="615.5" font-size="14.0">Arg195</text>
<text class="l" x="295" y="769.7" font-size="14.0">Pro196</text>
<text class="l" x="384.8" y="803.4" font-size="14.0">Glu371</text>
<text class="l" x="416.4" y="751.2" font-size="14.0">Ile418</text>
<text class="l" x="449.6" y="797" font-size="14.0">Arg422</text>
<text class="l" x="570.3" y="655.9" font-size="14.0">Asp506</text>
<text class="l" x="575.5" y="740.4" font-size="14.0">Met505</text>
<text class="l" x="564.7" y="791.7" font-size="14.0">Glu480</text>
<text class="l" x="513" y="824.4" font-size="14.0">Tyr476</text>
<line x1="141.6" y1="740.8" x2="152.87" y2="737.81" stroke="#111" stroke-width="1.3"/>
<path d="M159.3,736.1 L150.91,741.53 L152.14,738 L149.32,735.54 Z" fill="#111"/>
<line x1="173.5" y1="748.4" x2="171.31" y2="739.65" stroke="#111" stroke-width="1.3"/>
<path d="M169.7,733.2 L175.01,741.66 L171.5,740.39 L169,743.17 Z" fill="#111"/>
<line x1="458.3" y1="744.6" x2="470.36" y2="741.47" stroke="#111" stroke-width="1.3"/>
<path d="M476.8,739.8 L468.38,745.19 L469.63,741.66 L466.83,739.19 Z" fill="#111"/>
<rect x="55.2" y="808.4" width="86.5" height="19.5" fill="#fff" stroke="#b4b4b4" stroke-width="1"/>
<line x1="57.3" y1="818.3" x2="88.6" y2="818.3" stroke="#333" stroke-width="1.1"/>
<circle cx="72.6" cy="818.3" r="2.6"/>
<text x="92.6" y="822.4" font-weight="bold" font-size="11.4">NLRP3/3</text>
</g>
<g fill="#050505">
<line x1="49.5" y1="893.8" x2="178.3" y2="893.8" stroke="#111" stroke-width="1.25"/>
<line x1="188.7" y1="893.8" x2="283.6" y2="893.8" stroke="#111" stroke-width="1.25"/>
<line x1="294" y1="893.8" x2="365.7" y2="893.8" stroke="#111" stroke-width="1.25"/>
<line x1="376.1" y1="893.8" x2="624.4" y2="893.8" stroke="#111" stroke-width="1.25"/>
<line x1="49.5" y1="1139" x2="178.3" y2="1139" stroke="#111" stroke-width="1.25"/>
<line x1="188.7" y1="1139" x2="283.6" y2="1139" stroke="#111" stroke-width="1.25"/>
<line x1="294" y1="1139" x2="365.7" y2="1139" stroke="#111" stroke-width="1.25"/>
<line x1="376.1" y1="1139" x2="624.4" y2="1139" stroke="#111" stroke-width="1.25"/>
<line x1="50.1" y1="893.8" x2="50.1" y2="1139" stroke="#111" stroke-width="1.25"/>
<line x1="623.8" y1="893.8" x2="623.8" y2="1139" stroke="#111" stroke-width="1.25"/>
<line x1="173.8" y1="897.6" x2="183" y2="890" stroke="#111" stroke-width="1.2"/>
<line x1="184" y1="897.6" x2="193.2" y2="890" stroke="#111" stroke-width="1.2"/>
<line x1="173.8" y1="1142.8" x2="183" y2="1135.2" stroke="#111" stroke-width="1.2"/>
<line x1="184" y1="1142.8" x2="193.2" y2="1135.2" stroke="#111" stroke-width="1.2"/>
<line x1="279.1" y1="897.6" x2="288.3" y2="890" stroke="#111" stroke-width="1.2"/>
<line x1="289.3" y1="897.6" x2="298.5" y2="890" stroke="#111" stroke-width="1.2"/>
<line x1="279.1" y1="1142.8" x2="288.3" y2="1135.2" stroke="#111" stroke-width="1.2"/>
<line x1="289.3" y1="1142.8" x2="298.5" y2="1135.2" stroke="#111" stroke-width="1.2"/>
<line x1="361.2" y1="897.6" x2="370.4" y2="890" stroke="#111" stroke-width="1.2"/>
<line x1="371.4" y1="897.6" x2="380.6" y2="890" stroke="#111" stroke-width="1.2"/>
<line x1="361.2" y1="1142.8" x2="370.4" y2="1135.2" stroke="#111" stroke-width="1.2"/>
<line x1="371.4" y1="1142.8" x2="380.6" y2="1135.2" stroke="#111" stroke-width="1.2"/>
<line x1="48.5" y1="893.8" x2="50.1" y2="893.8" stroke="#111" stroke-width="1.1"/>
<line x1="46.3" y1="914.23" x2="50.1" y2="914.23" stroke="#111" stroke-width="1.1"/>
<line x1="48.5" y1="934.67" x2="50.1" y2="934.67" stroke="#111" stroke-width="1.1"/>
<line x1="46.3" y1="955.1" x2="50.1" y2="955.1" stroke="#111" stroke-width="1.1"/>
<line x1="48.5" y1="975.53" x2="50.1" y2="975.53" stroke="#111" stroke-width="1.1"/>
<line x1="46.3" y1="995.97" x2="50.1" y2="995.97" stroke="#111" stroke-width="1.1"/>
<line x1="48.5" y1="1016.4" x2="50.1" y2="1016.4" stroke="#111" stroke-width="1.1"/>
<line x1="46.3" y1="1036.83" x2="50.1" y2="1036.83" stroke="#111" stroke-width="1.1"/>
<line x1="48.5" y1="1057.27" x2="50.1" y2="1057.27" stroke="#111" stroke-width="1.1"/>
<line x1="46.3" y1="1077.7" x2="50.1" y2="1077.7" stroke="#111" stroke-width="1.1"/>
<line x1="48.5" y1="1098.13" x2="50.1" y2="1098.13" stroke="#111" stroke-width="1.1"/>
<line x1="46.3" y1="1118.57" x2="50.1" y2="1118.57" stroke="#111" stroke-width="1.1"/>
<line x1="48.5" y1="1139" x2="50.1" y2="1139" stroke="#111" stroke-width="1.1"/>
<text x="43" y="917.83" text-anchor="end" font-weight="bold" font-size="11">2</text>
<text x="43" y="958.7" text-anchor="end" font-weight="bold" font-size="11">1</text>
<text x="43" y="999.57" text-anchor="end" font-weight="bold" font-size="11">0</text>
<text x="43" y="1040.43" text-anchor="end" font-weight="bold" font-size="11">-1</text>
<text x="43" y="1081.3" text-anchor="end" font-weight="bold" font-size="11">-2</text>
<text x="43" y="1122.17" text-anchor="end" font-weight="bold" font-size="11">-3</text>
<line x1="50.1" y1="1139" x2="50.1" y2="1135.2" stroke="#111" stroke-width="1.1"/>
<text x="50.1" y="1152.3" text-anchor="middle" font-weight="bold" font-size="11.5">0</text>
<line x1="90.22" y1="1139" x2="90.22" y2="1137" stroke="#111" stroke-width="1.1"/>
<line x1="130.35" y1="1139" x2="130.35" y2="1135.2" stroke="#111" stroke-width="1.1"/>
<text x="130.35" y="1152.3" text-anchor="middle" font-weight="bold" font-size="11.5">50</text>
<line x1="170.47" y1="1139" x2="170.47" y2="1137" stroke="#111" stroke-width="1.1"/>
<line x1="204" y1="1139" x2="204" y2="1135.2" stroke="#111" stroke-width="1.1"/>
<text x="204" y="1152.3" text-anchor="middle" font-weight="bold" font-size="11.5">150</text>
<line x1="244.5" y1="1139" x2="244.5" y2="1137" stroke="#111" stroke-width="1.1"/>
<line x1="309.8" y1="1139" x2="309.8" y2="1135.2" stroke="#111" stroke-width="1.1"/>
<text x="309.8" y="1152.3" text-anchor="middle" font-weight="bold" font-size="11.5">250</text>
<line x1="350.3" y1="1139" x2="350.3" y2="1137" stroke="#111" stroke-width="1.1"/>
<line x1="391.6" y1="1139" x2="391.6" y2="1137" stroke="#111" stroke-width="1.1"/>
<line x1="431.6" y1="1139" x2="431.6" y2="1135.2" stroke="#111" stroke-width="1.1"/>
<text x="431.6" y="1152.3" text-anchor="middle" font-weight="bold" font-size="11.5">400</text>
<line x1="471.6" y1="1139" x2="471.6" y2="1137" stroke="#111" stroke-width="1.1"/>
<line x1="511.6" y1="1139" x2="511.6" y2="1135.2" stroke="#111" stroke-width="1.1"/>
<text x="511.6" y="1152.3" text-anchor="middle" font-weight="bold" font-size="11.5">450</text>
<line x1="551.6" y1="1139" x2="551.6" y2="1137" stroke="#111" stroke-width="1.1"/>
<line x1="591.6" y1="1139" x2="591.6" y2="1135.2" stroke="#111" stroke-width="1.1"/>
<text x="591.6" y="1152.3" text-anchor="middle" font-weight="bold" font-size="11.5">500</text>
<text x="322.3" y="1173.6" font-weight="bold" font-size="12.6">Residues</text>
<text transform="translate(21.2 1019.5) rotate(-90)" text-anchor="middle" font-weight="bold" font-size="12.7">Energy (kcal/mol)</text>
<clipPath id="c893"><rect x="50.7" y="894.4" width="576.7" height="244"/></clipPath>
<g clip-path="url(#c893)">
<polyline points="50.1,995.8 51.7,995.17 53.31,995.6 54.91,995.52 56.52,996 58.12,994.82 59.73,996.3 61.34,996.43 62.94,995.21 64.55,995.91 66.15,996.2 67.75,996.46 69.36,996.19 70.97,995.44 72.57,995.67 74.17,996.99 75.78,995.6 77.39,995.81 78.99,996.82 80.43,1009.86 82.04,1004.14 83.81,986.57 86.05,991.06 88.62,995.31 90.22,996.21 91.83,996.25 93.44,999.64 95.04,995.29 96.65,994.84 98.25,996.55 99.86,995.59 101.46,996.71 103.06,994 104.67,988.2 106.28,996.39 107.88,994.95 109.48,996.52 111.09,995.28 112.69,989.43 114.3,994.08 115.91,998.13 117.51,996.34 119.12,995.54 120.72,996.05 122.32,996.53 123.93,994.14 125.53,995.9 127.14,997.36 128.75,995.24 130.35,997.43 131.96,994.99 133.56,996.46 135.16,995.84 136.77,994.89 138.38,995.87 139.98,997.15 141.59,997.41 143.19,994.96 144.79,995.34 146.4,996.66 148,995.24 149.61,995.54 151.22,995.42 152.82,997.89 154.43,996.22 156.03,995.2 157.63,995.34 159.24,995.22 161.65,1000.05 165.18,980.44 166.46,1012.72 168.23,1009.86 169.83,998.01 171.44,935.89 173.04,993.92 175.29,998.06 176.9,995.82 178.5,995.55" fill="none" stroke="#333" stroke-width="0.8"/>
<circle cx="50.1" cy="995.8" r="2.6"/>
<circle cx="51.7" cy="995.17" r="2.6"/>
<circle cx="53.31" cy="995.6" r="2.6"/>
<circle cx="54.91" cy="995.52" r="2.6"/>
<circle cx="56.52" cy="996" r="2.6"/>
<circle cx="58.12" cy="994.82" r="2.6"/>
<circle cx="59.73" cy="996.3" r="2.6"/>
<circle cx="61.34" cy="996.43" r="2.6"/>
<circle cx="62.94" cy="995.21" r="2.6"/>
<circle cx="64.55" cy="995.91" r="2.6"/>
<circle cx="66.15" cy="996.2" r="2.6"/>
<circle cx="67.75" cy="996.46" r="2.6"/>
<circle cx="69.36" cy="996.19" r="2.6"/>
<circle cx="70.97" cy="995.44" r="2.6"/>
<circle cx="72.57" cy="995.67" r="2.6"/>
<circle cx="74.17" cy="996.99" r="2.6"/>
<circle cx="75.78" cy="995.6" r="2.6"/>
<circle cx="77.39" cy="995.81" r="2.6"/>
<circle cx="78.99" cy="996.82" r="2.6"/>
<circle cx="80.43" cy="1009.86" r="2.6"/>
<circle cx="82.04" cy="1004.14" r="2.6"/>
<circle cx="83.81" cy="986.57" r="2.6"/>
<circle cx="86.05" cy="991.06" r="2.6"/>
<circle cx="88.62" cy="995.31" r="2.6"/>
<circle cx="90.22" cy="996.21" r="2.6"/>
<circle cx="91.83" cy="996.25" r="2.6"/>
<circle cx="93.44" cy="999.64" r="2.6"/>
<circle cx="95.04" cy="995.29" r="2.6"/>
<circle cx="96.65" cy="994.84" r="2.6"/>
<circle cx="98.25" cy="996.55" r="2.6"/>
<circle cx="99.86" cy="995.59" r="2.6"/>
<circle cx="101.46" cy="996.71" r="2.6"/>
<circle cx="103.06" cy="994" r="2.6"/>
<circle cx="104.67" cy="988.2" r="2.6"/>
<circle cx="106.28" cy="996.39" r="2.6"/>
<circle cx="107.88" cy="994.95" r="2.6"/>
<circle cx="109.48" cy="996.52" r="2.6"/>
<circle cx="111.09" cy="995.28" r="2.6"/>
<circle cx="112.69" cy="989.43" r="2.6"/>
<circle cx="114.3" cy="994.08" r="2.6"/>
<circle cx="115.91" cy="998.13" r="2.6"/>
<circle cx="117.51" cy="996.34" r="2.6"/>
<circle cx="119.12" cy="995.54" r="2.6"/>
<circle cx="120.72" cy="996.05" r="2.6"/>
<circle cx="122.32" cy="996.53" r="2.6"/>
<circle cx="123.93" cy="994.14" r="2.6"/>
<circle cx="125.53" cy="995.9" r="2.6"/>
<circle cx="127.14" cy="997.36" r="2.6"/>
<circle cx="128.75" cy="995.24" r="2.6"/>
<circle cx="130.35" cy="997.43" r="2.6"/>
<circle cx="131.96" cy="994.99" r="2.6"/>
<circle cx="133.56" cy="996.46" r="2.6"/>
<circle cx="135.16" cy="995.84" r="2.6"/>
<circle cx="136.77" cy="994.89" r="2.6"/>
<circle cx="138.38" cy="995.87" r="2.6"/>
<circle cx="139.98" cy="997.15" r="2.6"/>
<circle cx="141.59" cy="997.41" r="2.6"/>
<circle cx="143.19" cy="994.96" r="2.6"/>
<circle cx="144.79" cy="995.34" r="2.6"/>
<circle cx="146.4" cy="996.66" r="2.6"/>
<circle cx="148" cy="995.24" r="2.6"/>
<circle cx="149.61" cy="995.54" r="2.6"/>
<circle cx="151.22" cy="995.42" r="2.6"/>
<circle cx="152.82" cy="997.89" r="2.6"/>
<circle cx="154.43" cy="996.22" r="2.6"/>
<circle cx="156.03" cy="995.2" r="2.6"/>
<circle cx="157.63" cy="995.34" r="2.6"/>
<circle cx="159.24" cy="995.22" r="2.6"/>
<circle cx="161.65" cy="1000.05" r="2.6"/>
<circle cx="165.18" cy="980.44" r="2.6"/>
<circle cx="166.46" cy="1012.72" r="2.6"/>
<circle cx="168.23" cy="1009.86" r="2.6"/>
<circle cx="169.83" cy="998.01" r="2.6"/>
<circle cx="171.44" cy="935.89" r="2.6"/>
<circle cx="173.04" cy="993.92" r="2.6"/>
<circle cx="175.29" cy="998.06" r="2.6"/>
<circle cx="176.9" cy="995.82" r="2.6"/>
<circle cx="178.5" cy="995.55" r="2.6"/>
<polyline points="187.8,993.8 189.42,996.78 191.04,996.25 192.66,995.94 194.28,995.21 195.9,996.34 197.36,1007 199.14,994.99 200.76,996.64 202.38,1025.8 204.32,1007 205.62,995.74 207.24,996.41 208.86,995.83 210.48,996.55 212.1,997.32 213.72,995.04 215.34,995.71 216.96,996.44 218.58,995.8 220.2,995.13 221.82,996.8 223.44,996.06 225.06,995.51 226.68,995.52 228.3,996.25 229.92,997.76 231.54,994.91 233.16,995.69 234.78,995.96 236.4,996.2 238.02,995.74 239.64,996.33 241.26,996.84 242.88,996.6 244.5,996.47 246.12,996.49 247.74,996.95 249.36,995.43 250.98,997.08 252.6,995.41 254.22,996.83 255.84,995.67 257.46,994.8 259.08,995.79 260.7,996.59 262.32,995.93 263.94,995.84 265.56,997.44 267.18,996.48 268.8,995.83 270.42,996.37 272.04,995.9 273.66,995.34 276.41,912.19 278.52,1007 280.95,989.43 282.73,993.11 284.19,998.01" fill="none" stroke="#333" stroke-width="0.8"/>
<circle cx="187.8" cy="993.8" r="2.6"/>
<circle cx="189.42" cy="996.78" r="2.6"/>
<circle cx="191.04" cy="996.25" r="2.6"/>
<circle cx="192.66" cy="995.94" r="2.6"/>
<circle cx="194.28" cy="995.21" r="2.6"/>
<circle cx="195.9" cy="996.34" r="2.6"/>
<circle cx="197.36" cy="1007" r="2.6"/>
<circle cx="199.14" cy="994.99" r="2.6"/>
<circle cx="200.76" cy="996.64" r="2.6"/>
<circle cx="202.38" cy="1025.8" r="2.6"/>
<circle cx="204.32" cy="1007" r="2.6"/>
<circle cx="205.62" cy="995.74" r="2.6"/>
<circle cx="207.24" cy="996.41" r="2.6"/>
<circle cx="208.86" cy="995.83" r="2.6"/>
<circle cx="210.48" cy="996.55" r="2.6"/>
<circle cx="212.1" cy="997.32" r="2.6"/>
<circle cx="213.72" cy="995.04" r="2.6"/>
<circle cx="215.34" cy="995.71" r="2.6"/>
<circle cx="216.96" cy="996.44" r="2.6"/>
<circle cx="218.58" cy="995.8" r="2.6"/>
<circle cx="220.2" cy="995.13" r="2.6"/>
<circle cx="221.82" cy="996.8" r="2.6"/>
<circle cx="223.44" cy="996.06" r="2.6"/>
<circle cx="225.06" cy="995.51" r="2.6"/>
<circle cx="226.68" cy="995.52" r="2.6"/>
<circle cx="228.3" cy="996.25" r="2.6"/>
<circle cx="229.92" cy="997.76" r="2.6"/>
<circle cx="231.54" cy="994.91" r="2.6"/>
<circle cx="233.16" cy="995.69" r="2.6"/>
<circle cx="234.78" cy="995.96" r="2.6"/>
<circle cx="236.4" cy="996.2" r="2.6"/>
<circle cx="238.02" cy="995.74" r="2.6"/>
<circle cx="239.64" cy="996.33" r="2.6"/>
<circle cx="241.26" cy="996.84" r="2.6"/>
<circle cx="242.88" cy="996.6" r="2.6"/>
<circle cx="244.5" cy="996.47" r="2.6"/>
<circle cx="246.12" cy="996.49" r="2.6"/>
<circle cx="247.74" cy="996.95" r="2.6"/>
<circle cx="249.36" cy="995.43" r="2.6"/>
<circle cx="250.98" cy="997.08" r="2.6"/>
<circle cx="252.6" cy="995.41" r="2.6"/>
<circle cx="254.22" cy="996.83" r="2.6"/>
<circle cx="255.84" cy="995.67" r="2.6"/>
<circle cx="257.46" cy="994.8" r="2.6"/>
<circle cx="259.08" cy="995.79" r="2.6"/>
<circle cx="260.7" cy="996.59" r="2.6"/>
<circle cx="262.32" cy="995.93" r="2.6"/>
<circle cx="263.94" cy="995.84" r="2.6"/>
<circle cx="265.56" cy="997.44" r="2.6"/>
<circle cx="267.18" cy="996.48" r="2.6"/>
<circle cx="268.8" cy="995.83" r="2.6"/>
<circle cx="270.42" cy="996.37" r="2.6"/>
<circle cx="272.04" cy="995.9" r="2.6"/>
<circle cx="273.66" cy="995.34" r="2.6"/>
<circle cx="276.41" cy="912.19" r="2.6"/>
<circle cx="278.52" cy="1007" r="2.6"/>
<circle cx="280.95" cy="989.43" r="2.6"/>
<circle cx="282.73" cy="993.11" r="2.6"/>
<circle cx="284.19" cy="998.01" r="2.6"/>
<polyline points="293.6,995.32 295.22,995.2 296.84,995.47 298.46,996.21 300.08,995.98 301.7,996.2 303.32,996.23 304.94,1004.14 306.56,1016.4 308.18,1006.18 309.8,999.24 311.42,994.33 313.04,1060.54 314.66,1012.72 316.28,995.97 318.71,1066.26 320.33,995.97 321.14,1007.41 322.76,1017.22 324.38,996.12 326,997.43 327.62,996.25 329.24,995.99 330.86,996.79 332.48,995.99 334.1,995.53 335.72,996.11 337.18,988.61 338.96,994.2 340.58,998.18 342.2,996.14 343.82,1000.87 345.44,997.52 347.87,991.88 350.3,995.13 351.92,993.71 353.54,998.09 355.16,995.86 356.78,995.53 358.4,996.22 360.02,989.84 361.64,1013.95 363.26,1038.88 365.69,993.92" fill="none" stroke="#333" stroke-width="0.8"/>
<circle cx="293.6" cy="995.32" r="2.6"/>
<circle cx="295.22" cy="995.2" r="2.6"/>
<circle cx="296.84" cy="995.47" r="2.6"/>
<circle cx="298.46" cy="996.21" r="2.6"/>
<circle cx="300.08" cy="995.98" r="2.6"/>
<circle cx="301.7" cy="996.2" r="2.6"/>
<circle cx="303.32" cy="996.23" r="2.6"/>
<circle cx="304.94" cy="1004.14" r="2.6"/>
<circle cx="306.56" cy="1016.4" r="2.6"/>
<circle cx="308.18" cy="1006.18" r="2.6"/>
<circle cx="309.8" cy="999.24" r="2.6"/>
<circle cx="311.42" cy="994.33" r="2.6"/>
<circle cx="313.04" cy="1060.54" r="2.6"/>
<circle cx="314.66" cy="1012.72" r="2.6"/>
<circle cx="316.28" cy="995.97" r="2.6"/>
<circle cx="318.71" cy="1066.26" r="2.6"/>
<circle cx="320.33" cy="995.97" r="2.6"/>
<circle cx="321.14" cy="1007.41" r="2.6"/>
<circle cx="322.76" cy="1017.22" r="2.6"/>
<circle cx="324.38" cy="996.12" r="2.6"/>
<circle cx="326" cy="997.43" r="2.6"/>
<circle cx="327.62" cy="996.25" r="2.6"/>
<circle cx="329.24" cy="995.99" r="2.6"/>
<circle cx="330.86" cy="996.79" r="2.6"/>
<circle cx="332.48" cy="995.99" r="2.6"/>
<circle cx="334.1" cy="995.53" r="2.6"/>
<circle cx="335.72" cy="996.11" r="2.6"/>
<circle cx="337.18" cy="988.61" r="2.6"/>
<circle cx="338.96" cy="994.2" r="2.6"/>
<circle cx="340.58" cy="998.18" r="2.6"/>
<circle cx="342.2" cy="996.14" r="2.6"/>
<circle cx="343.82" cy="1000.87" r="2.6"/>
<circle cx="345.44" cy="997.52" r="2.6"/>
<circle cx="347.87" cy="991.88" r="2.6"/>
<circle cx="350.3" cy="995.13" r="2.6"/>
<circle cx="351.92" cy="993.71" r="2.6"/>
<circle cx="353.54" cy="998.09" r="2.6"/>
<circle cx="355.16" cy="995.86" r="2.6"/>
<circle cx="356.78" cy="995.53" r="2.6"/>
<circle cx="358.4" cy="996.22" r="2.6"/>
<circle cx="360.02" cy="989.84" r="2.6"/>
<circle cx="361.64" cy="1013.95" r="2.6"/>
<circle cx="363.26" cy="1038.88" r="2.6"/>
<circle cx="365.69" cy="993.92" r="2.6"/>
<polyline points="375.6,995.5 377.2,997.87 378.8,995.24 380.4,995.65 382,995.95 383.6,996.47 385.84,1033.97 388.4,995.42 390,996.38 391.6,995.78 393.2,996.4 394.8,997.88 396.4,995.99 398,995.79 399.6,995.33 401.2,996.71 402.8,995.99 404.4,1000.87 406,995.44 407.6,995.84 409.2,994.91 410.8,1000.87 412.4,994.27 414,996.74 415.6,997.6 417.2,995.24 418.8,994.67 420.4,995.18 422,995.27 423.6,996.49 425.2,996.57 426.8,995.21 428.4,996.74 430,997.51 432.24,989.43 433.52,1002.1 434.8,996.81 436.4,993.85 438,994.33 439.6,996.55 441.2,996.59 442.8,1001.69 444.4,995.77 446,996.6 447.6,994.85 449.2,996.03 450.8,996.89 452.4,994.85 454,990.65 455.6,996.46 457.2,1020.08 458.8,995.78 460.4,1040.51 461.84,1116.93 463.6,992.7 465.2,1000.05 467.44,1086.69 468.88,1003.73 471.6,995.98 473.2,996.23 474.8,995.69 476.4,996.56 478,997.53 479.6,997.84 481.2,997.04 482.8,983.71 484.4,996.61 486,995.99 487.6,995.92 489.2,995.49 490.8,1000.05 493.36,990.25 495.6,995.86 497.2,996.64 498.8,996.57 500.4,997.77 502,996.11 503.6,995.55 505.2,995.52 506.8,996.07 508.4,996.11 510,990.25 511.6,995.17 513.2,1001.28 514.8,995.95 516.4,995.34 518,991.06 519.6,995.47 521.2,995.79 522.8,1000.05 524.4,994.86 526,988.61 527.6,996.45 529.2,996.27 530.8,996.65 532.4,996.64 534,994.64 535.6,994.47 537.2,995.95 538.8,995.48 540.4,994.97 542,995.28 543.6,994.94 545.2,997.04 546.8,996.51 549.04,948.56 551.6,998.01 553.84,1061.35 555.76,1001.28 558.16,1044.6 560.08,1065.85 561.52,998.01 562.8,995.58 564.4,994.75 566,995.88 567.6,996.7 569.2,996.27 570.8,996.53 572.4,996.7 574,994.69 575.6,991.88 577.2,996.5 578.8,995.95 580.4,994.13 582,992.7 583.6,994.96 585.2,995.68 586.8,996.49 588.4,993.92 590,995.62 591.6,994.59 593.2,995.44 594.8,994.89 597.2,993.11 599.44,1045.01 601.2,972.26 603.6,1002.1 605.68,1012.31 607.6,995.88 609.2,993.92 610.8,995.53 612.4,996.14 614,995.6 615.6,993.11 617.2,994.86 618.8,997.18 620.4,996.02 622,995.76 623.6,996.45" fill="none" stroke="#333" stroke-width="0.8"/>
<circle cx="375.6" cy="995.5" r="2.6"/>
<circle cx="377.2" cy="997.87" r="2.6"/>
<circle cx="378.8" cy="995.24" r="2.6"/>
<circle cx="380.4" cy="995.65" r="2.6"/>
<circle cx="382" cy="995.95" r="2.6"/>
<circle cx="383.6" cy="996.47" r="2.6"/>
<circle cx="385.84" cy="1033.97" r="2.6"/>
<circle cx="388.4" cy="995.42" r="2.6"/>
<circle cx="390" cy="996.38" r="2.6"/>
<circle cx="391.6" cy="995.78" r="2.6"/>
<circle cx="393.2" cy="996.4" r="2.6"/>
<circle cx="394.8" cy="997.88" r="2.6"/>
<circle cx="396.4" cy="995.99" r="2.6"/>
<circle cx="398" cy="995.79" r="2.6"/>
<circle cx="399.6" cy="995.33" r="2.6"/>
<circle cx="401.2" cy="996.71" r="2.6"/>
<circle cx="402.8" cy="995.99" r="2.6"/>
<circle cx="404.4" cy="1000.87" r="2.6"/>
<circle cx="406" cy="995.44" r="2.6"/>
<circle cx="407.6" cy="995.84" r="2.6"/>
<circle cx="409.2" cy="994.91" r="2.6"/>
<circle cx="410.8" cy="1000.87" r="2.6"/>
<circle cx="412.4" cy="994.27" r="2.6"/>
<circle cx="414" cy="996.74" r="2.6"/>
<circle cx="415.6" cy="997.6" r="2.6"/>
<circle cx="417.2" cy="995.24" r="2.6"/>
<circle cx="418.8" cy="994.67" r="2.6"/>
<circle cx="420.4" cy="995.18" r="2.6"/>
<circle cx="422" cy="995.27" r="2.6"/>
<circle cx="423.6" cy="996.49" r="2.6"/>
<circle cx="425.2" cy="996.57" r="2.6"/>
<circle cx="426.8" cy="995.21" r="2.6"/>
<circle cx="428.4" cy="996.74" r="2.6"/>
<circle cx="430" cy="997.51" r="2.6"/>
<circle cx="432.24" cy="989.43" r="2.6"/>
<circle cx="433.52" cy="1002.1" r="2.6"/>
<circle cx="434.8" cy="996.81" r="2.6"/>
<circle cx="436.4" cy="993.85" r="2.6"/>
<circle cx="438" cy="994.33" r="2.6"/>
<circle cx="439.6" cy="996.55" r="2.6"/>
<circle cx="441.2" cy="996.59" r="2.6"/>
<circle cx="442.8" cy="1001.69" r="2.6"/>
<circle cx="444.4" cy="995.77" r="2.6"/>
<circle cx="446" cy="996.6" r="2.6"/>
<circle cx="447.6" cy="994.85" r="2.6"/>
<circle cx="449.2" cy="996.03" r="2.6"/>
<circle cx="450.8" cy="996.89" r="2.6"/>
<circle cx="452.4" cy="994.85" r="2.6"/>
<circle cx="454" cy="990.65" r="2.6"/>
<circle cx="455.6" cy="996.46" r="2.6"/>
<circle cx="457.2" cy="1020.08" r="2.6"/>
<circle cx="458.8" cy="995.78" r="2.6"/>
<circle cx="460.4" cy="1040.51" r="2.6"/>
<circle cx="461.84" cy="1116.93" r="2.6"/>
<circle cx="463.6" cy="992.7" r="2.6"/>
<circle cx="465.2" cy="1000.05" r="2.6"/>
<circle cx="467.44" cy="1086.69" r="2.6"/>
<circle cx="468.88" cy="1003.73" r="2.6"/>
<circle cx="471.6" cy="995.98" r="2.6"/>
<circle cx="473.2" cy="996.23" r="2.6"/>
<circle cx="474.8" cy="995.69" r="2.6"/>
<circle cx="476.4" cy="996.56" r="2.6"/>
<circle cx="478" cy="997.53" r="2.6"/>
<circle cx="479.6" cy="997.84" r="2.6"/>
<circle cx="481.2" cy="997.04" r="2.6"/>
<circle cx="482.8" cy="983.71" r="2.6"/>
<circle cx="484.4" cy="996.61" r="2.6"/>
<circle cx="486" cy="995.99" r="2.6"/>
<circle cx="487.6" cy="995.92" r="2.6"/>
<circle cx="489.2" cy="995.49" r="2.6"/>
<circle cx="490.8" cy="1000.05" r="2.6"/>
<circle cx="493.36" cy="990.25" r="2.6"/>
<circle cx="495.6" cy="995.86" r="2.6"/>
<circle cx="497.2" cy="996.64" r="2.6"/>
<circle cx="498.8" cy="996.57" r="2.6"/>
<circle cx="500.4" cy="997.77" r="2.6"/>
<circle cx="502" cy="996.11" r="2.6"/>
<circle cx="503.6" cy="995.55" r="2.6"/>
<circle cx="505.2" cy="995.52" r="2.6"/>
<circle cx="506.8" cy="996.07" r="2.6"/>
<circle cx="508.4" cy="996.11" r="2.6"/>
<circle cx="510" cy="990.25" r="2.6"/>
<circle cx="511.6" cy="995.17" r="2.6"/>
<circle cx="513.2" cy="1001.28" r="2.6"/>
<circle cx="514.8" cy="995.95" r="2.6"/>
<circle cx="516.4" cy="995.34" r="2.6"/>
<circle cx="518" cy="991.06" r="2.6"/>
<circle cx="519.6" cy="995.47" r="2.6"/>
<circle cx="521.2" cy="995.79" r="2.6"/>
<circle cx="522.8" cy="1000.05" r="2.6"/>
<circle cx="524.4" cy="994.86" r="2.6"/>
<circle cx="526" cy="988.61" r="2.6"/>
<circle cx="527.6" cy="996.45" r="2.6"/>
<circle cx="529.2" cy="996.27" r="2.6"/>
<circle cx="530.8" cy="996.65" r="2.6"/>
<circle cx="532.4" cy="996.64" r="2.6"/>
<circle cx="534" cy="994.64" r="2.6"/>
<circle cx="535.6" cy="994.47" r="2.6"/>
<circle cx="537.2" cy="995.95" r="2.6"/>
<circle cx="538.8" cy="995.48" r="2.6"/>
<circle cx="540.4" cy="994.97" r="2.6"/>
<circle cx="542" cy="995.28" r="2.6"/>
<circle cx="543.6" cy="994.94" r="2.6"/>
<circle cx="545.2" cy="997.04" r="2.6"/>
<circle cx="546.8" cy="996.51" r="2.6"/>
<circle cx="549.04" cy="948.56" r="2.6"/>
<circle cx="551.6" cy="998.01" r="2.6"/>
<circle cx="553.84" cy="1061.35" r="2.6"/>
<circle cx="555.76" cy="1001.28" r="2.6"/>
<circle cx="558.16" cy="1044.6" r="2.6"/>
<circle cx="560.08" cy="1065.85" r="2.6"/>
<circle cx="561.52" cy="998.01" r="2.6"/>
<circle cx="562.8" cy="995.58" r="2.6"/>
<circle cx="564.4" cy="994.75" r="2.6"/>
<circle cx="566" cy="995.88" r="2.6"/>
<circle cx="567.6" cy="996.7" r="2.6"/>
<circle cx="569.2" cy="996.27" r="2.6"/>
<circle cx="570.8" cy="996.53" r="2.6"/>
<circle cx="572.4" cy="996.7" r="2.6"/>
<circle cx="574" cy="994.69" r="2.6"/>
<circle cx="575.6" cy="991.88" r="2.6"/>
<circle cx="577.2" cy="996.5" r="2.6"/>
<circle cx="578.8" cy="995.95" r="2.6"/>
<circle cx="580.4" cy="994.13" r="2.6"/>
<circle cx="582" cy="992.7" r="2.6"/>
<circle cx="583.6" cy="994.96" r="2.6"/>
<circle cx="585.2" cy="995.68" r="2.6"/>
<circle cx="586.8" cy="996.49" r="2.6"/>
<circle cx="588.4" cy="993.92" r="2.6"/>
<circle cx="590" cy="995.62" r="2.6"/>
<circle cx="591.6" cy="994.59" r="2.6"/>
<circle cx="593.2" cy="995.44" r="2.6"/>
<circle cx="594.8" cy="994.89" r="2.6"/>
<circle cx="597.2" cy="993.11" r="2.6"/>
<circle cx="599.44" cy="1045.01" r="2.6"/>
<circle cx="601.2" cy="972.26" r="2.6"/>
<circle cx="603.6" cy="1002.1" r="2.6"/>
<circle cx="605.68" cy="1012.31" r="2.6"/>
<circle cx="607.6" cy="995.88" r="2.6"/>
<circle cx="609.2" cy="993.92" r="2.6"/>
<circle cx="610.8" cy="995.53" r="2.6"/>
<circle cx="612.4" cy="996.14" r="2.6"/>
<circle cx="614" cy="995.6" r="2.6"/>
<circle cx="615.6" cy="993.11" r="2.6"/>
<circle cx="617.2" cy="994.86" r="2.6"/>
<circle cx="618.8" cy="997.18" r="2.6"/>
<circle cx="620.4" cy="996.02" r="2.6"/>
<circle cx="622" cy="995.76" r="2.6"/>
<circle cx="623.6" cy="996.45" r="2.6"/>
</g>
<text class="l" x="162.4" y="926.1" font-size="14.0">Lys76</text>
<text class="l" x="104.5" y="1043.8" font-size="14.0">Val71</text>
<text class="l" x="181.9" y="1041.7" font-size="14.0">Asp149</text>
<text class="l" x="223.2" y="916.8" font-size="14.0">Arg195</text>
<text class="l" x="262.9" y="1065.6" font-size="14.0">Met252</text>
<text class="l" x="315.4" y="1082" font-size="14.0">Ile255</text>
<text class="l" x="339.7" y="1054.4" font-size="14.0">Thr283</text>
<text class="l" x="389.4" y="1070.4" font-size="14.0">Glu371</text>
<text class="l" x="417.5" y="1045.3" font-size="14.0">Ile418</text>
<text class="l" x="410.9" y="1120.2" font-size="14.0">Phe419</text>
<text class="l" x="467.6" y="1101.4" font-size="14.0">Arg422</text>
<text class="l" x="534.4" y="940.6" font-size="14.0">Glu473</text>
<text class="l" x="572.1" y="964.9" font-size="14.0">Asp506</text>
<text class="l" x="506.3" y="1066" font-size="14.0">Tyr476</text>
<text class="l" x="572" y="1064.3" font-size="14.0">Met505</text>
<text class="l" x="542.4" y="1085.7" font-size="14.0">Glu480</text>
<line x1="140.2" y1="1038.3" x2="159.77" y2="1019.77" stroke="#111" stroke-width="1.3"/>
<path d="M164.6,1015.2 L159.83,1023.98 L159.22,1020.29 L155.57,1019.48 Z" fill="#111"/>
<line x1="396.1" y1="1053.6" x2="390.7" y2="1042.48" stroke="#111" stroke-width="1.3"/>
<path d="M387.8,1036.5 L394.74,1043.69 L391.04,1043.17 L389.16,1046.4 Z" fill="#111"/>
<rect x="58.4" y="1108.4" width="115.7" height="19.3" fill="#fff" stroke="#b4b4b4" stroke-width="1"/>
<line x1="60.8" y1="1118.1" x2="92.1" y2="1118.1" stroke="#333" stroke-width="1.1"/>
<circle cx="75.9" cy="1118.1" r="2.6"/>
<text x="96.5" y="1122.2" font-weight="bold" font-size="11.4">NLRP3/YQ128</text>
</g>
</svg></body></html>
